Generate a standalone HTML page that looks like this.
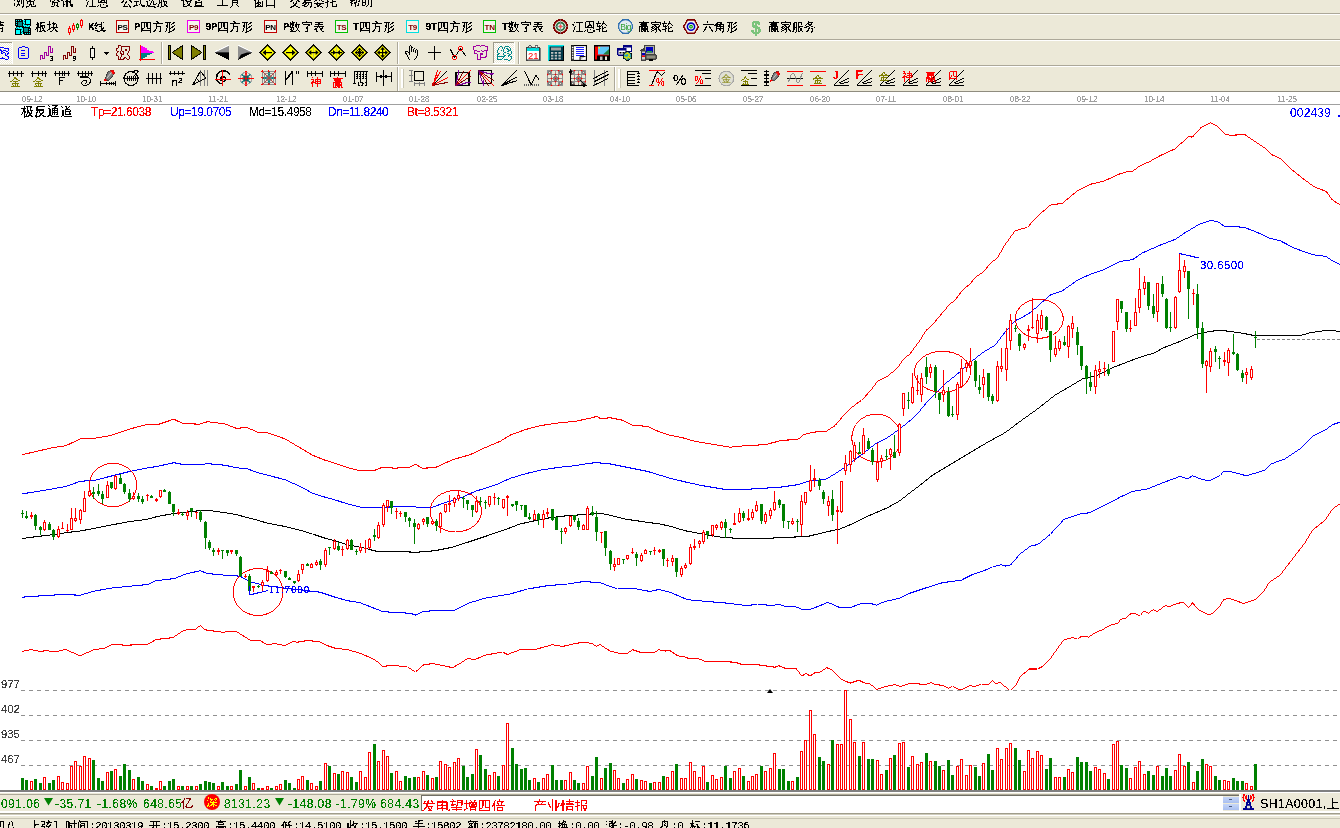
<!DOCTYPE html>
<html lang="zh"><head><meta charset="utf-8"><title>极反通道</title>
<style>
*{margin:0;padding:0;box-sizing:border-box}
html,body{width:1340px;height:828px;overflow:hidden;background:#fff}
body{position:relative;font-family:"Liberation Sans","WenQuanYi Zen Hei",sans-serif;font-size:12px;color:#000}
.abs{position:absolute;white-space:nowrap}
.bar{position:absolute;left:0;width:1340px;background:#ECE9D8}
.hl{position:absolute;left:0;width:1340px;height:1px}
.ss{position:absolute;white-space:nowrap;font-size:12px;line-height:12px;height:12px;color:#000}
.ss .l{font-family:"Liberation Mono",monospace;font-size:11px;letter-spacing:-0.6px;display:inline-block;vertical-align:top;line-height:12px}
.tb .l{font-weight:bold}
.ss .c{font-family:"Liberation Sans","WenQuanYi Zen Hei",sans-serif;font-size:12px;display:inline-block;vertical-align:top;line-height:12px}
.ic{position:absolute;width:16px;height:16px;overflow:visible}
.vsep{position:absolute;width:2px;height:20px;border-left:1px solid #ACA899;border-right:1px solid #fff}
.dt{position:absolute;top:93px;font-size:9.5px;line-height:11px;color:#A0A0A0;font-family:"Liberation Sans",sans-serif;letter-spacing:0;transform:scaleX(.84);transform-origin:0 0}
.ind{position:absolute;top:106px;font-size:12px;line-height:13px;font-family:"Liberation Sans",sans-serif;white-space:nowrap;letter-spacing:-0.45px}
.vl{position:absolute;left:1px;letter-spacing:-0.2px;font-size:11.5px;line-height:12px;color:#404040;font-family:"Liberation Sans",sans-serif}
.st{position:absolute;top:798px;font-size:12px;line-height:13px;font-family:"Liberation Sans",sans-serif;color:#008000;white-space:nowrap;letter-spacing:0.45px}
</style></head><body>
<svg width="0" height="0" style="position:absolute"><defs><filter id="th" x="0" y="0" width="1" height="1" color-interpolation-filters="sRGB"><feComponentTransfer><feFuncA type="discrete" tableValues="0 0 1 1 1"/></feComponentTransfer></filter></defs></svg>
<div class="bar" style="top:0;height:91px"></div>
<div class="hl" style="top:13px;background:#ACA899"></div>
<div class="hl" style="top:14px;background:#fff"></div>
<div class="hl" style="top:39px;background:#ACA899"></div>
<div class="hl" style="top:40px;background:#fff"></div>
<div class="hl" style="top:65px;background:#ACA899"></div>
<div class="hl" style="top:66px;background:#fff"></div>
<div class="hl" style="top:91px;background:#8F8C7F"></div>
<svg width="1340" height="92" viewBox="0 0 1340 92" style="position:absolute;left:0;top:0;overflow:hidden;filter:url(#th)"><defs><pattern id="chk" width="2" height="2" patternUnits="userSpaceOnUse"><rect width="2" height="2" fill="#fff"/><rect width="1" height="1" fill="#ECE9D8"/><rect x="1" y="1" width="1" height="1" fill="#ECE9D8"/></pattern></defs><g transform="translate(15,19)" shape-rendering="crispEdges"><rect x="0" y="0" width="16" height="16" fill="#000" /><rect x="7" y="0" width="2" height="1" fill="#ECE9D8" /><rect x="7" y="15" width="2" height="1" fill="#ECE9D8" /><rect x="0" y="7" width="1" height="2" fill="#ECE9D8" /><rect x="15" y="7" width="1" height="2" fill="#ECE9D8" /><rect x="1" y="1" width="1" height="1" fill="#00ffff" /><rect x="3" y="1" width="1" height="1" fill="#00ffff" /><rect x="5" y="1" width="1" height="1" fill="#00ffff" /><rect x="1" y="3" width="1" height="1" fill="#00ffff" /><rect x="1" y="5" width="1" height="1" fill="#00ffff" /><rect x="3" y="3" width="4" height="4" fill="#008888" /><rect x="11" y="1" width="4" height="4" fill="#00ffff" /><rect x="8" y="1" width="2" height="6" fill="#00ffff" /><rect x="9" y="6" width="6" height="2" fill="#00ffff" /><rect x="9" y="2" width="1" height="1" fill="#006060" /><rect x="8" y="4" width="1" height="1" fill="#006060" /><rect x="9" y="5" width="1" height="1" fill="#006060" /><rect x="10" y="7" width="1" height="1" fill="#006060" /><rect x="12" y="6" width="1" height="1" fill="#006060" /><rect x="14" y="7" width="1" height="1" fill="#006060" /><rect x="1" y="11" width="4" height="4" fill="#00ffff" /><rect x="1" y="8" width="6" height="2" fill="#00ffff" /><rect x="6" y="9" width="2" height="6" fill="#00ffff" /><rect x="2" y="9" width="1" height="1" fill="#006060" /><rect x="4" y="8" width="1" height="1" fill="#006060" /><rect x="6" y="10" width="1" height="1" fill="#006060" /><rect x="7" y="12" width="1" height="1" fill="#006060" /><rect x="6" y="13" width="1" height="1" fill="#006060" /><rect x="1" y="8" width="1" height="1" fill="#006060" /><rect x="9" y="9" width="4" height="4" fill="#008888" /><rect x="14" y="10" width="1" height="1" fill="#00ffff" /><rect x="14" y="12" width="1" height="1" fill="#00ffff" /><rect x="14" y="14" width="1" height="1" fill="#00ffff" /><rect x="12" y="14" width="1" height="1" fill="#00ffff" /><rect x="10" y="14" width="1" height="1" fill="#00ffff" /></g>
<g transform="translate(68,18)" shape-rendering="crispEdges"><rect x="1" y="8" width="1" height="9" fill="#ff0000" /><rect x="0" y="10" width="3" height="5" fill="#ff0000" /><rect x="1" y="11" width="1" height="3" fill="#ECE9D8" /><rect x="5" y="5" width="1" height="9" fill="#ff0000" /><rect x="4" y="7" width="3" height="5" fill="#ff0000" /><rect x="5" y="8" width="1" height="3" fill="#ECE9D8" /><rect x="9" y="5" width="1" height="7" fill="#008000" /><rect x="8" y="6" width="3" height="4" fill="#008000" /><rect x="9" y="7" width="1" height="2" fill="#ECE9D8" /><rect x="13" y="1" width="1" height="9" fill="#ff0000" /><rect x="12" y="2" width="3" height="6" fill="#ff0000" /><rect x="13" y="3" width="1" height="4" fill="#ECE9D8" /></g>
<g transform="translate(116,20)" ><rect x="0" y="0" width="13" height="13" fill="#F6F4EC" /><rect x="0.5" y="0.5" width="12" height="12" fill="none" stroke="#ff0000" stroke-width="1"/><rect x="0.5" y="0.5" width="12" height="12" fill="none" stroke="#800000" stroke-width="1" stroke-dasharray="1,1"/><text x="6.6" y="10" font-size="8" fill="#000" font-family="'Liberation Sans',sans-serif" font-weight="bold" text-anchor="middle" letter-spacing="-0.2">PS</text></g>
<g transform="translate(187,20)" ><rect x="0" y="0" width="13" height="13" fill="#F6F4EC" /><rect x="0.5" y="0.5" width="12" height="12" fill="none" stroke="#ff00ff" stroke-width="1"/><rect x="0.5" y="0.5" width="12" height="12" fill="none" stroke="#e000e0" stroke-width="1" stroke-dasharray="1,1"/><text x="6.6" y="10" font-size="8" fill="#800000" font-family="'Liberation Sans',sans-serif" font-weight="bold" text-anchor="middle" letter-spacing="-0.2">P9</text></g>
<g transform="translate(264,20)" ><rect x="0" y="0" width="13" height="13" fill="#F6F4EC" /><rect x="0.5" y="0.5" width="12" height="12" fill="none" stroke="#ff0000" stroke-width="1"/><rect x="0.5" y="0.5" width="12" height="12" fill="none" stroke="#800000" stroke-width="1" stroke-dasharray="1,1"/><text x="6.6" y="10" font-size="8" fill="#000" font-family="'Liberation Sans',sans-serif" font-weight="bold" text-anchor="middle" letter-spacing="-0.2">PN</text></g>
<g transform="translate(335,20)" ><rect x="0" y="0" width="13" height="13" fill="#F6F4EC" /><rect x="0.5" y="0.5" width="12" height="12" fill="none" stroke="#00ff00" stroke-width="1"/><rect x="0.5" y="0.5" width="12" height="12" fill="none" stroke="#008000" stroke-width="1" stroke-dasharray="1,1"/><text x="6.6" y="10" font-size="8" fill="#800000" font-family="'Liberation Sans',sans-serif" font-weight="bold" text-anchor="middle" letter-spacing="-0.2">TS</text></g>
<g transform="translate(406,20)" ><rect x="0" y="0" width="13" height="13" fill="#F6F4EC" /><rect x="0.5" y="0.5" width="12" height="12" fill="none" stroke="#00ffff" stroke-width="1"/><rect x="0.5" y="0.5" width="12" height="12" fill="none" stroke="#00c0c0" stroke-width="1" stroke-dasharray="1,1"/><text x="6.6" y="10" font-size="8" fill="#800000" font-family="'Liberation Sans',sans-serif" font-weight="bold" text-anchor="middle" letter-spacing="-0.2">T9</text></g>
<g transform="translate(483,20)" ><rect x="0" y="0" width="13" height="13" fill="#F6F4EC" /><rect x="0.5" y="0.5" width="12" height="12" fill="none" stroke="#00ff00" stroke-width="1"/><rect x="0.5" y="0.5" width="12" height="12" fill="none" stroke="#008000" stroke-width="1" stroke-dasharray="1,1"/><text x="6.6" y="10" font-size="8" fill="#800000" font-family="'Liberation Sans',sans-serif" font-weight="bold" text-anchor="middle" letter-spacing="-0.2">TN</text></g>
<g transform="translate(552.5,18.5)" ><circle cx="8" cy="8" r="6.6" fill="#ECE9D8" stroke="#800000" stroke-width="1.8"/><circle cx="8" cy="8" r="3.9" fill="#e0ece0" stroke="#207040" stroke-width="1.7"/><line x1="1" y1="8" x2="15" y2="8" stroke="#909090" stroke-width="0.9"/><line x1="8" y1="1" x2="8" y2="15" stroke="#909090" stroke-width="0.9"/><circle cx="8" cy="8" r="1.4" fill="#ff5050"/></g>
<g transform="translate(617.5,18.5)" ><circle cx="8" cy="8" r="7" fill="#e4ecf4" stroke="#3070b0" stroke-width="1.3"/><text x="8.2" y="11.3" font-size="8.5" fill="#30a030" font-family="'Liberation Sans',sans-serif" font-weight="normal" text-anchor="middle" letter-spacing="-0.5">Big</text></g>
<g transform="translate(683,19)" ><path d="M0.7 7.7 L4.5 1 L11.5 1 L15.3 7.7 L11.5 14.3 L4.5 14.3 Z" stroke="#800000" fill="#F6F4EC" stroke-width="1.4" /><circle cx="8" cy="7.7" r="3.6" fill="#fff" stroke="#0000c0" stroke-width="1.6"/><circle cx="8" cy="7.7" r="1.3" fill="#fff" stroke="#00a000" stroke-width="1.2"/></g>
<g transform="translate(749,18)" ><text x="7" y="15.5" font-size="18" fill="#7cc47c" font-family="'Liberation Sans',sans-serif" font-weight="bold" text-anchor="middle">$</text></g>
<rect x="0" y="42" width="12" height="22" fill="url(#chk)"/><rect x="0" y="42" width="12" height="1" fill="#9D9A89"/><rect x="12" y="42" width="1" height="22" fill="#fff"/>
<g transform="translate(0,46)" shape-rendering="crispEdges"><rect x="0" y="1" width="1" height="1" fill="#0000ff" /><rect x="1" y="1" width="1" height="1" fill="#0000ff" /><rect x="2" y="1" width="1" height="1" fill="#0000ff" /><rect x="3" y="1" width="1" height="1" fill="#0000ff" /><rect x="4" y="2" width="1" height="1" fill="#0000ff" /><rect x="5" y="2" width="1" height="1" fill="#0000ff" /><rect x="6" y="2" width="1" height="1" fill="#0000ff" /><rect x="7" y="2" width="1" height="1" fill="#0000ff" /><rect x="8" y="2" width="1" height="1" fill="#0000ff" /><rect x="0" y="3" width="1" height="1" fill="#0000ff" /><rect x="8" y="3" width="1" height="1" fill="#0000ff" /><rect x="0" y="4" width="1" height="1" fill="#0000ff" /><rect x="1" y="4" width="1" height="1" fill="#0000ff" /><rect x="3" y="4" width="1" height="1" fill="#0000ff" /><rect x="4" y="4" width="1" height="1" fill="#0000ff" /><rect x="5" y="4" width="1" height="1" fill="#0000ff" /><rect x="8" y="4" width="1" height="1" fill="#0000ff" /><rect x="1" y="5" width="1" height="1" fill="#0000ff" /><rect x="2" y="5" width="1" height="1" fill="#0000ff" /><rect x="6" y="5" width="1" height="1" fill="#0000ff" /><rect x="7" y="5" width="1" height="1" fill="#0000ff" /><rect x="1" y="6" width="1" height="1" fill="#0000ff" /><rect x="3" y="6" width="1" height="1" fill="#0000ff" /><rect x="4" y="6" width="1" height="1" fill="#0000ff" /><rect x="8" y="6" width="1" height="1" fill="#0000ff" /><rect x="1" y="7" width="1" height="1" fill="#0000ff" /><rect x="2" y="7" width="1" height="1" fill="#0000ff" /><rect x="5" y="7" width="1" height="1" fill="#0000ff" /><rect x="7" y="7" width="1" height="1" fill="#0000ff" /><rect x="8" y="7" width="1" height="1" fill="#0000ff" /><rect x="5" y="8" width="1" height="1" fill="#0000ff" /><rect x="7" y="8" width="1" height="1" fill="#0000ff" /><rect x="5" y="9" width="1" height="1" fill="#0000ff" /><rect x="6" y="9" width="1" height="1" fill="#0000ff" /><rect x="7" y="10" width="1" height="1" fill="#0000ff" /><rect x="8" y="10" width="1" height="1" fill="#0000ff" /><rect x="2" y="11" width="1" height="1" fill="#0000ff" /><rect x="8" y="11" width="1" height="1" fill="#0000ff" /><rect x="0" y="12" width="1" height="1" fill="#0000ff" /><rect x="1" y="12" width="1" height="1" fill="#0000ff" /><rect x="2" y="12" width="1" height="1" fill="#0000ff" /><rect x="3" y="12" width="1" height="1" fill="#0000ff" /><rect x="4" y="12" width="1" height="1" fill="#0000ff" /><rect x="8" y="12" width="1" height="1" fill="#0000ff" /><rect x="5" y="13" width="1" height="1" fill="#0000ff" /><rect x="6" y="13" width="1" height="1" fill="#0000ff" /><rect x="7" y="13" width="1" height="1" fill="#0000ff" /></g>
<g transform="translate(18,46)" shape-rendering="crispEdges"><rect x="4" y="0" width="1" height="1" fill="#0000ff" /><rect x="5" y="0" width="1" height="1" fill="#0000ff" /><rect x="6" y="0" width="1" height="1" fill="#0000ff" /><rect x="1" y="1" width="1" height="1" fill="#0000ff" /><rect x="2" y="1" width="1" height="1" fill="#0000ff" /><rect x="3" y="1" width="1" height="1" fill="#0000ff" /><rect x="7" y="1" width="1" height="1" fill="#0000ff" /><rect x="8" y="1" width="1" height="1" fill="#0000ff" /><rect x="9" y="1" width="1" height="1" fill="#0000ff" /><rect x="0" y="2" width="1" height="1" fill="#0000ff" /><rect x="10" y="2" width="1" height="1" fill="#0000ff" /><rect x="0" y="3" width="1" height="1" fill="#0000ff" /><rect x="10" y="3" width="1" height="1" fill="#0000ff" /><rect x="0" y="4" width="1" height="1" fill="#0000ff" /><rect x="3" y="4" width="1" height="1" fill="#0000ff" /><rect x="4" y="4" width="1" height="1" fill="#0000ff" /><rect x="5" y="4" width="1" height="1" fill="#0000ff" /><rect x="6" y="4" width="1" height="1" fill="#0000ff" /><rect x="10" y="4" width="1" height="1" fill="#0000ff" /><rect x="0" y="5" width="1" height="1" fill="#0000ff" /><rect x="10" y="5" width="1" height="1" fill="#0000ff" /><rect x="0" y="6" width="1" height="1" fill="#0000ff" /><rect x="10" y="6" width="1" height="1" fill="#0000ff" /><rect x="0" y="7" width="1" height="1" fill="#0000ff" /><rect x="3" y="7" width="1" height="1" fill="#0000ff" /><rect x="4" y="7" width="1" height="1" fill="#0000ff" /><rect x="5" y="7" width="1" height="1" fill="#0000ff" /><rect x="6" y="7" width="1" height="1" fill="#0000ff" /><rect x="10" y="7" width="1" height="1" fill="#0000ff" /><rect x="0" y="8" width="1" height="1" fill="#0000ff" /><rect x="10" y="8" width="1" height="1" fill="#0000ff" /><rect x="0" y="9" width="1" height="1" fill="#0000ff" /><rect x="3" y="9" width="1" height="1" fill="#0000ff" /><rect x="4" y="9" width="1" height="1" fill="#0000ff" /><rect x="5" y="9" width="1" height="1" fill="#0000ff" /><rect x="6" y="9" width="1" height="1" fill="#0000ff" /><rect x="10" y="9" width="1" height="1" fill="#0000ff" /><rect x="0" y="10" width="1" height="1" fill="#0000ff" /><rect x="10" y="10" width="1" height="1" fill="#0000ff" /><rect x="0" y="11" width="1" height="1" fill="#0000ff" /><rect x="10" y="11" width="1" height="1" fill="#0000ff" /><rect x="1" y="12" width="1" height="1" fill="#0000ff" /><rect x="2" y="12" width="1" height="1" fill="#0000ff" /><rect x="3" y="12" width="1" height="1" fill="#0000ff" /><rect x="4" y="12" width="1" height="1" fill="#0000ff" /><rect x="5" y="12" width="1" height="1" fill="#0000ff" /><rect x="6" y="12" width="1" height="1" fill="#0000ff" /><rect x="7" y="12" width="1" height="1" fill="#0000ff" /><rect x="8" y="12" width="1" height="1" fill="#0000ff" /><rect x="9" y="12" width="1" height="1" fill="#0000ff" /></g>
<g transform="translate(40,45)" ><path d="M0.5 14.5 V10.5 H2.5 V13.5 H4.5 V7.5 H6.5 V10.5 H8.5 V1.5 H10.5 V7.5 H12.5 V3.5" stroke="#a000a0" fill="none" stroke-width="0.95" stroke-linecap="square"/><text x="9.6" y="15.8" font-size="7" fill="#000" font-family="'Liberation Sans',sans-serif" font-weight="bold" >3</text></g>
<g transform="translate(63,45)" ><path d="M0.5 14.5 V10.5 H2.5 V13.5 H4.5 V7.5 H6.5 V10.5 H8.5 V1.5 H10.5 V7.5 H12.5 V3.5" stroke="#800000" fill="none" stroke-width="0.95" stroke-linecap="square"/><text x="9.6" y="15.8" font-size="7" fill="#000" font-family="'Liberation Sans',sans-serif" font-weight="bold" >9</text></g>
<g transform="translate(88,45)" ><rect x="4" y="1" width="1" height="14" fill="#000" /><rect x="2" y="3" width="5" height="10" fill="#000" /><rect x="3" y="4" width="3" height="8" fill="#F6F4EC" /><polygon points="16,7 21,7 18.5,9.8" fill="#000"/></g>
<g transform="translate(116,45)" shape-rendering="crispEdges"><rect x="2" y="0" width="1" height="1" fill="#800000" /><rect x="3" y="0" width="1" height="1" fill="#800000" /><rect x="4" y="0" width="1" height="1" fill="#800000" /><rect x="2" y="1" width="1" height="1" fill="#800000" /><rect x="5" y="1" width="1" height="1" fill="#800000" /><rect x="6" y="1" width="1" height="1" fill="#800000" /><rect x="7" y="1" width="1" height="1" fill="#800000" /><rect x="8" y="1" width="1" height="1" fill="#800000" /><rect x="9" y="1" width="1" height="1" fill="#800000" /><rect x="10" y="1" width="1" height="1" fill="#800000" /><rect x="11" y="1" width="1" height="1" fill="#800000" /><rect x="12" y="1" width="1" height="1" fill="#800000" /><rect x="13" y="1" width="1" height="1" fill="#800000" /><rect x="2" y="2" width="1" height="1" fill="#800000" /><rect x="5" y="2" width="1" height="1" fill="#800000" /><rect x="13" y="2" width="1" height="1" fill="#800000" /><rect x="0" y="3" width="1" height="1" fill="#800000" /><rect x="1" y="3" width="1" height="1" fill="#800000" /><rect x="5" y="3" width="1" height="1" fill="#800000" /><rect x="13" y="3" width="1" height="1" fill="#800000" /><rect x="0" y="4" width="1" height="1" fill="#800000" /><rect x="5" y="4" width="1" height="1" fill="#800000" /><rect x="9" y="4" width="1" height="1" fill="#800000" /><rect x="10" y="4" width="1" height="1" fill="#800000" /><rect x="13" y="4" width="1" height="1" fill="#800000" /><rect x="0" y="5" width="1" height="1" fill="#800000" /><rect x="5" y="5" width="1" height="1" fill="#800000" /><rect x="9" y="5" width="1" height="1" fill="#800000" /><rect x="10" y="5" width="1" height="1" fill="#800000" /><rect x="13" y="5" width="1" height="1" fill="#800000" /><rect x="1" y="6" width="1" height="1" fill="#800000" /><rect x="2" y="6" width="1" height="1" fill="#800000" /><rect x="4" y="6" width="1" height="1" fill="#800000" /><rect x="6" y="6" width="1" height="1" fill="#800000" /><rect x="7" y="6" width="1" height="1" fill="#800000" /><rect x="12" y="6" width="1" height="1" fill="#800000" /><rect x="1" y="7" width="1" height="1" fill="#800000" /><rect x="4" y="7" width="1" height="1" fill="#800000" /><rect x="7" y="7" width="1" height="1" fill="#800000" /><rect x="12" y="7" width="1" height="1" fill="#800000" /><rect x="0" y="8" width="1" height="1" fill="#800000" /><rect x="4" y="8" width="1" height="1" fill="#800000" /><rect x="5" y="8" width="1" height="1" fill="#800000" /><rect x="7" y="8" width="1" height="1" fill="#800000" /><rect x="11" y="8" width="1" height="1" fill="#800000" /><rect x="0" y="9" width="1" height="1" fill="#800000" /><rect x="5" y="9" width="1" height="1" fill="#800000" /><rect x="6" y="9" width="1" height="1" fill="#800000" /><rect x="7" y="9" width="1" height="1" fill="#800000" /><rect x="11" y="9" width="1" height="1" fill="#800000" /><rect x="0" y="10" width="1" height="1" fill="#800000" /><rect x="1" y="10" width="1" height="1" fill="#800000" /><rect x="5" y="10" width="1" height="1" fill="#800000" /><rect x="12" y="10" width="1" height="1" fill="#800000" /><rect x="2" y="11" width="1" height="1" fill="#800000" /><rect x="5" y="11" width="1" height="1" fill="#800000" /><rect x="13" y="11" width="1" height="1" fill="#800000" /><rect x="2" y="12" width="1" height="1" fill="#800000" /><rect x="4" y="12" width="1" height="1" fill="#800000" /><rect x="8" y="12" width="1" height="1" fill="#800000" /><rect x="9" y="12" width="1" height="1" fill="#800000" /><rect x="13" y="12" width="1" height="1" fill="#800000" /><rect x="2" y="13" width="1" height="1" fill="#800000" /><rect x="4" y="13" width="1" height="1" fill="#800000" /><rect x="7" y="13" width="1" height="1" fill="#800000" /><rect x="8" y="13" width="1" height="1" fill="#800000" /><rect x="10" y="13" width="1" height="1" fill="#800000" /><rect x="13" y="13" width="1" height="1" fill="#800000" /><rect x="2" y="14" width="1" height="1" fill="#800000" /><rect x="3" y="14" width="1" height="1" fill="#800000" /><rect x="4" y="14" width="1" height="1" fill="#800000" /><rect x="5" y="14" width="1" height="1" fill="#800000" /><rect x="6" y="14" width="1" height="1" fill="#800000" /><rect x="7" y="14" width="1" height="1" fill="#800000" /><rect x="11" y="14" width="1" height="1" fill="#800000" /><rect x="12" y="14" width="1" height="1" fill="#800000" /></g>
<g transform="translate(139,45)" shape-rendering="crispEdges"><rect x="2" y="1" width="2" height="1" fill="#ff00ff" /><rect x="2" y="2" width="4" height="1" fill="#ff00ff" /><rect x="2" y="3" width="6" height="1" fill="#ff00ff" /><rect x="2" y="4" width="6" height="1" fill="#ff00ff" /><rect x="2" y="5" width="8" height="1" fill="#ff00ff" /><rect x="2" y="6" width="12" height="1" fill="#ff00ff" /><rect x="2" y="7" width="13" height="1" fill="#ff00ff" /><rect x="2" y="8" width="11" height="1" fill="#008080" /><rect x="2" y="9" width="9" height="1" fill="#008080" /><rect x="2" y="10" width="6" height="1" fill="#008080" /><rect x="2" y="11" width="6" height="1" fill="#008080" /><rect x="2" y="12" width="4" height="1" fill="#008080" /><rect x="2" y="13" width="2" height="1" fill="#008080" /><rect x="1" y="0" width="1" height="16" fill="#ff0000" /><rect x="0" y="14" width="16" height="1" fill="#ff0000" /></g>
<rect x="161" y="42" width="1" height="22" fill="#ACA899"/><rect x="162" y="42" width="1" height="22" fill="#fff"/>
<g transform="translate(167,45)" ><rect x="1.5" y="0.5" width="2" height="14" fill="#808000" stroke="#000" stroke-width="1" /><polygon points="5,7.5 15.5,0.7 15.5,14.3" fill="#808000" stroke="#000" stroke-width="1"/></g>
<g transform="translate(190,45)" ><rect x="13.5" y="0.5" width="2" height="14" fill="#808000" stroke="#000" stroke-width="1" /><polygon points="12,7.5 1.5,0.7 1.5,14.3" fill="#808000" stroke="#000" stroke-width="1"/></g>
<g transform="translate(214,45)" ><polygon points="0.5,7.5 15,0.5 15,7.5" fill="#909090"/><polygon points="0.5,7.5 15,7.5 15,14.8" fill="#000"/><path d="M0.5 7 L15 0.3" stroke="#fff" fill="none" stroke-width="0.95" /></g>
<g transform="translate(237,45)" ><polygon points="15.5,7.5 1,0.5 1,14.5" fill="#909090"/><polygon points="15.5,7.5 1,14.8 4,9.5 10,7.5" fill="#000"/><path d="M1 0.3 L15.5 7" stroke="#fff" fill="none" stroke-width="0.95" /></g>
<g transform="translate(260,45)" ><polygon points="7.5,0 15,7.5 7.5,15 0,7.5" fill="#ffff00" stroke="#000" stroke-width="1.1"/><rect x="4" y="7" width="8" height="1.2" fill="#000" /><polygon points="2.5,7.6 6,10.4 6,4.8" fill="#000"/></g>
<g transform="translate(283,45)" ><polygon points="7.5,0 15,7.5 7.5,15 0,7.5" fill="#ffff00" stroke="#000" stroke-width="1.1"/><rect x="3" y="7" width="8" height="1.2" fill="#000" /><polygon points="12.5,7.6 9,4.8 9,10.4" fill="#000"/></g>
<g transform="translate(306,45)" ><polygon points="7.5,0 15,7.5 7.5,15 0,7.5" fill="#ffff00" stroke="#000" stroke-width="1.1"/><rect x="7" y="2" width="1" height="11" fill="#c8c860" /><rect x="4" y="7" width="7" height="1.2" fill="#000" /><polygon points="2.3,7.6 5.3,10.1 5.3,5.1" fill="#000"/><polygon points="12.7,7.6 9.7,5.1 9.7,10.1" fill="#000"/></g>
<g transform="translate(329,45)" ><polygon points="7.5,0 15,7.5 7.5,15 0,7.5" fill="#ffff00" stroke="#000" stroke-width="1.1"/><rect x="7" y="2" width="1" height="11" fill="#c8c860" /><rect x="2" y="7" width="11" height="1.2" fill="#000" /><polygon points="7,7.6 4,5.1 4,10.1" fill="#000"/><polygon points="8,7.6 11,10.1 11,5.1" fill="#000"/></g>
<g transform="translate(352,45)" ><polygon points="7.5,0 15,7.5 7.5,15 0,7.5" fill="#ffff00" stroke="#000" stroke-width="1.1"/><rect x="3" y="7" width="9" height="1.1" fill="#000" /><rect x="7" y="3" width="1.1" height="9" fill="#000" /><line x1="4.5" y1="4.5" x2="10.5" y2="10.5" stroke="#000" stroke-width="0.9"/><line x1="10.5" y1="4.5" x2="4.5" y2="10.5" stroke="#000" stroke-width="0.9"/><polygon points="6.3,7.55 3.8,5.55 3.8,9.55" fill="#000"/><polygon points="8.8,7.55 11.3,9.55 11.3,5.55" fill="#000"/><polygon points="7.55,6.3 5.55,3.8 9.55,3.8" fill="#000"/><polygon points="7.55,8.8 9.55,11.3 5.55,11.3" fill="#000"/></g>
<g transform="translate(375,45)" ><polygon points="7.5,0 15,7.5 7.5,15 0,7.5" fill="#ffff00" stroke="#000" stroke-width="1.1"/><rect x="3" y="7" width="9" height="1.2" fill="#000" /><rect x="7" y="3" width="1.2" height="9" fill="#000" /><polygon points="2,7.6 4.8,10 4.8,5.2" fill="#000"/><polygon points="13,7.6 10.2,5.2 10.2,10" fill="#000"/><polygon points="7.6,2 10,4.8 5.2,4.8" fill="#000"/><polygon points="7.6,13 5.2,10.2 10,10.2" fill="#000"/></g>
<rect x="397" y="42" width="1" height="22" fill="#ACA899"/><rect x="398" y="42" width="1" height="22" fill="#fff"/>
<g transform="translate(405,45)" shape-rendering="crispEdges"><rect x="5" y="0" width="1" height="1" fill="#000" /><rect x="4" y="1" width="1" height="1" fill="#000" /><rect x="6" y="1" width="1" height="1" fill="#000" /><rect x="4" y="2" width="1" height="1" fill="#000" /><rect x="6" y="2" width="1" height="1" fill="#000" /><rect x="7" y="2" width="1" height="1" fill="#000" /><rect x="4" y="3" width="1" height="1" fill="#000" /><rect x="6" y="3" width="1" height="1" fill="#000" /><rect x="9" y="3" width="1" height="1" fill="#000" /><rect x="4" y="4" width="1" height="1" fill="#000" /><rect x="6" y="4" width="1" height="1" fill="#000" /><rect x="8" y="4" width="1" height="1" fill="#000" /><rect x="11" y="4" width="1" height="1" fill="#000" /><rect x="4" y="5" width="1" height="1" fill="#000" /><rect x="6" y="5" width="1" height="1" fill="#000" /><rect x="8" y="5" width="1" height="1" fill="#000" /><rect x="10" y="5" width="1" height="1" fill="#000" /><rect x="12" y="5" width="1" height="1" fill="#000" /><rect x="0" y="6" width="1" height="1" fill="#000" /><rect x="1" y="6" width="1" height="1" fill="#000" /><rect x="2" y="6" width="1" height="1" fill="#000" /><rect x="4" y="6" width="1" height="1" fill="#000" /><rect x="6" y="6" width="1" height="1" fill="#000" /><rect x="8" y="6" width="1" height="1" fill="#000" /><rect x="10" y="6" width="1" height="1" fill="#000" /><rect x="12" y="6" width="1" height="1" fill="#000" /><rect x="0" y="7" width="1" height="1" fill="#000" /><rect x="3" y="7" width="1" height="1" fill="#000" /><rect x="4" y="7" width="1" height="1" fill="#000" /><rect x="10" y="7" width="1" height="1" fill="#000" /><rect x="12" y="7" width="1" height="1" fill="#000" /><rect x="0" y="8" width="1" height="1" fill="#000" /><rect x="1" y="8" width="1" height="1" fill="#000" /><rect x="4" y="8" width="1" height="1" fill="#000" /><rect x="12" y="8" width="1" height="1" fill="#000" /><rect x="1" y="9" width="1" height="1" fill="#000" /><rect x="4" y="9" width="1" height="1" fill="#000" /><rect x="12" y="9" width="1" height="1" fill="#000" /><rect x="2" y="10" width="1" height="1" fill="#000" /><rect x="12" y="10" width="1" height="1" fill="#000" /><rect x="2" y="11" width="1" height="1" fill="#000" /><rect x="11" y="11" width="1" height="1" fill="#000" /><rect x="3" y="12" width="1" height="1" fill="#000" /><rect x="11" y="12" width="1" height="1" fill="#000" /><rect x="3" y="13" width="1" height="1" fill="#000" /><rect x="10" y="13" width="1" height="1" fill="#000" /><rect x="4" y="14" width="1" height="1" fill="#000" /><rect x="9" y="14" width="1" height="1" fill="#000" /></g>
<g transform="translate(427,45)" shape-rendering="crispEdges"><rect x="7" y="1" width="1" height="14" fill="#000" /><rect x="1" y="7" width="13" height="1" fill="#000" /></g>
<g transform="translate(449,45)" ><path d="M1.5 4.5 L5.5 12.5 L11.5 3.5 L16.5 10.7" stroke="#000" fill="none" stroke-width="0.95" /><g shape-rendering="crispEdges"><rect x="4" y="10" width="3" height="1" fill="#ff0000" /><rect x="4" y="14" width="3" height="1" fill="#ff0000" /><rect x="3" y="11" width="1" height="3" fill="#ff0000" /><rect x="7" y="11" width="1" height="3" fill="#ff0000" /><rect x="10" y="1" width="3" height="1" fill="#ff0000" /><rect x="10" y="5" width="3" height="1" fill="#ff0000" /><rect x="9" y="2" width="1" height="3" fill="#ff0000" /><rect x="13" y="2" width="1" height="3" fill="#ff0000" /></g></g>
<g transform="translate(473,45)" shape-rendering="crispEdges"><rect x="3" y="0" width="1" height="1" fill="#a000a0" /><rect x="4" y="0" width="1" height="1" fill="#a000a0" /><rect x="5" y="0" width="1" height="1" fill="#a000a0" /><rect x="6" y="0" width="1" height="1" fill="#a000a0" /><rect x="8" y="0" width="1" height="1" fill="#a000a0" /><rect x="9" y="0" width="1" height="1" fill="#a000a0" /><rect x="10" y="0" width="1" height="1" fill="#a000a0" /><rect x="11" y="0" width="1" height="1" fill="#a000a0" /><rect x="0" y="1" width="1" height="1" fill="#a000a0" /><rect x="1" y="1" width="1" height="1" fill="#a000a0" /><rect x="2" y="1" width="1" height="1" fill="#a000a0" /><rect x="7" y="1" width="1" height="1" fill="#a000a0" /><rect x="12" y="1" width="1" height="1" fill="#a000a0" /><rect x="13" y="1" width="1" height="1" fill="#a000a0" /><rect x="14" y="1" width="1" height="1" fill="#a000a0" /><rect x="0" y="2" width="1" height="1" fill="#a000a0" /><rect x="14" y="2" width="1" height="1" fill="#a000a0" /><rect x="0" y="3" width="1" height="1" fill="#a000a0" /><rect x="14" y="3" width="1" height="1" fill="#a000a0" /><rect x="0" y="4" width="1" height="1" fill="#a000a0" /><rect x="14" y="4" width="1" height="1" fill="#a000a0" /><rect x="1" y="5" width="1" height="1" fill="#a000a0" /><rect x="2" y="5" width="1" height="1" fill="#a000a0" /><rect x="3" y="5" width="1" height="1" fill="#a000a0" /><rect x="8" y="5" width="1" height="1" fill="#a000a0" /><rect x="11" y="5" width="1" height="1" fill="#a000a0" /><rect x="12" y="5" width="1" height="1" fill="#a000a0" /><rect x="13" y="5" width="1" height="1" fill="#a000a0" /><rect x="14" y="5" width="1" height="1" fill="#a000a0" /><rect x="1" y="6" width="1" height="1" fill="#a000a0" /><rect x="4" y="6" width="1" height="1" fill="#a000a0" /><rect x="5" y="6" width="1" height="1" fill="#a000a0" /><rect x="6" y="6" width="1" height="1" fill="#a000a0" /><rect x="9" y="6" width="1" height="1" fill="#a000a0" /><rect x="10" y="6" width="1" height="1" fill="#a000a0" /><rect x="13" y="6" width="1" height="1" fill="#a000a0" /><rect x="1" y="7" width="1" height="1" fill="#a000a0" /><rect x="13" y="7" width="1" height="1" fill="#a000a0" /><rect x="1" y="8" width="1" height="1" fill="#a000a0" /><rect x="2" y="8" width="1" height="1" fill="#a000a0" /><rect x="3" y="8" width="1" height="1" fill="#a000a0" /><rect x="7" y="8" width="1" height="1" fill="#a000a0" /><rect x="8" y="8" width="1" height="1" fill="#a000a0" /><rect x="9" y="8" width="1" height="1" fill="#a000a0" /><rect x="13" y="8" width="1" height="1" fill="#a000a0" /><rect x="4" y="9" width="1" height="1" fill="#a000a0" /><rect x="7" y="9" width="1" height="1" fill="#a000a0" /><rect x="8" y="9" width="1" height="1" fill="#a000a0" /><rect x="9" y="9" width="1" height="1" fill="#a000a0" /><rect x="13" y="9" width="1" height="1" fill="#a000a0" /><rect x="4" y="10" width="1" height="1" fill="#a000a0" /><rect x="7" y="10" width="1" height="1" fill="#a000a0" /><rect x="13" y="10" width="1" height="1" fill="#a000a0" /><rect x="4" y="11" width="1" height="1" fill="#a000a0" /><rect x="7" y="11" width="1" height="1" fill="#a000a0" /><rect x="12" y="11" width="1" height="1" fill="#a000a0" /><rect x="13" y="11" width="1" height="1" fill="#a000a0" /><rect x="4" y="12" width="1" height="1" fill="#a000a0" /><rect x="7" y="12" width="1" height="1" fill="#a000a0" /><rect x="8" y="12" width="1" height="1" fill="#a000a0" /><rect x="9" y="12" width="1" height="1" fill="#a000a0" /><rect x="10" y="12" width="1" height="1" fill="#a000a0" /><rect x="11" y="12" width="1" height="1" fill="#a000a0" /><rect x="12" y="12" width="1" height="1" fill="#a000a0" /><rect x="4" y="13" width="1" height="1" fill="#a000a0" /><rect x="7" y="13" width="1" height="1" fill="#a000a0" /><rect x="4" y="14" width="1" height="1" fill="#a000a0" /><rect x="5" y="14" width="1" height="1" fill="#a000a0" /><rect x="6" y="14" width="1" height="1" fill="#a000a0" /><rect x="7" y="14" width="1" height="1" fill="#a000a0" /></g>
<rect x="493" y="42" width="22" height="22" fill="url(#chk)"/><rect x="493" y="42" width="22" height="1" fill="#9D9A89"/><rect x="493" y="42" width="1" height="22" fill="#9D9A89"/><rect x="514" y="42" width="1" height="22" fill="#fff"/><rect x="493" y="63" width="22" height="1" fill="#fff"/>
<g transform="translate(497,46)" shape-rendering="crispEdges"><rect x="3" y="0" width="1" height="1" fill="#008888" /><rect x="4" y="0" width="1" height="1" fill="#008888" /><rect x="8" y="0" width="1" height="1" fill="#008888" /><rect x="9" y="0" width="1" height="1" fill="#008888" /><rect x="10" y="0" width="1" height="1" fill="#008888" /><rect x="11" y="0" width="1" height="1" fill="#008888" /><rect x="2" y="1" width="1" height="1" fill="#008888" /><rect x="5" y="1" width="1" height="1" fill="#008888" /><rect x="7" y="1" width="1" height="1" fill="#008888" /><rect x="12" y="1" width="1" height="1" fill="#008888" /><rect x="1" y="2" width="1" height="1" fill="#008888" /><rect x="5" y="2" width="1" height="1" fill="#008888" /><rect x="7" y="2" width="1" height="1" fill="#008888" /><rect x="9" y="2" width="1" height="1" fill="#008888" /><rect x="10" y="2" width="1" height="1" fill="#008888" /><rect x="13" y="2" width="1" height="1" fill="#008888" /><rect x="1" y="3" width="1" height="1" fill="#008888" /><rect x="6" y="3" width="1" height="1" fill="#008888" /><rect x="10" y="3" width="1" height="1" fill="#008888" /><rect x="11" y="3" width="1" height="1" fill="#008888" /><rect x="13" y="3" width="1" height="1" fill="#008888" /><rect x="0" y="4" width="1" height="1" fill="#008888" /><rect x="4" y="4" width="1" height="1" fill="#008888" /><rect x="6" y="4" width="1" height="1" fill="#008888" /><rect x="11" y="4" width="1" height="1" fill="#008888" /><rect x="12" y="4" width="1" height="1" fill="#008888" /><rect x="13" y="4" width="1" height="1" fill="#008888" /><rect x="0" y="5" width="1" height="1" fill="#008888" /><rect x="6" y="5" width="1" height="1" fill="#008888" /><rect x="10" y="5" width="1" height="1" fill="#008888" /><rect x="11" y="5" width="1" height="1" fill="#008888" /><rect x="14" y="5" width="1" height="1" fill="#008888" /><rect x="0" y="6" width="1" height="1" fill="#008888" /><rect x="7" y="6" width="1" height="1" fill="#008888" /><rect x="8" y="6" width="1" height="1" fill="#008888" /><rect x="14" y="6" width="1" height="1" fill="#008888" /><rect x="1" y="7" width="1" height="1" fill="#008888" /><rect x="2" y="7" width="1" height="1" fill="#008888" /><rect x="6" y="7" width="1" height="1" fill="#008888" /><rect x="10" y="7" width="1" height="1" fill="#008888" /><rect x="11" y="7" width="1" height="1" fill="#008888" /><rect x="14" y="7" width="1" height="1" fill="#008888" /><rect x="0" y="8" width="1" height="1" fill="#008888" /><rect x="1" y="8" width="1" height="1" fill="#008888" /><rect x="6" y="8" width="1" height="1" fill="#008888" /><rect x="12" y="8" width="1" height="1" fill="#008888" /><rect x="13" y="8" width="1" height="1" fill="#008888" /><rect x="0" y="9" width="1" height="1" fill="#008888" /><rect x="7" y="9" width="1" height="1" fill="#008888" /><rect x="8" y="9" width="1" height="1" fill="#008888" /><rect x="11" y="9" width="1" height="1" fill="#008888" /><rect x="12" y="9" width="1" height="1" fill="#008888" /><rect x="0" y="10" width="1" height="1" fill="#008888" /><rect x="1" y="10" width="1" height="1" fill="#008888" /><rect x="2" y="10" width="1" height="1" fill="#008888" /><rect x="3" y="10" width="1" height="1" fill="#008888" /><rect x="4" y="10" width="1" height="1" fill="#008888" /><rect x="5" y="10" width="1" height="1" fill="#008888" /><rect x="6" y="10" width="1" height="1" fill="#008888" /><rect x="7" y="10" width="1" height="1" fill="#008888" /><rect x="11" y="10" width="1" height="1" fill="#008888" /><rect x="13" y="10" width="1" height="1" fill="#008888" /><rect x="14" y="10" width="1" height="1" fill="#008888" /><rect x="0" y="11" width="1" height="1" fill="#008888" /><rect x="6" y="11" width="1" height="1" fill="#008888" /><rect x="14" y="11" width="1" height="1" fill="#008888" /><rect x="0" y="12" width="1" height="1" fill="#008888" /><rect x="5" y="12" width="1" height="1" fill="#008888" /><rect x="14" y="12" width="1" height="1" fill="#008888" /><rect x="0" y="13" width="1" height="1" fill="#008888" /><rect x="1" y="13" width="1" height="1" fill="#008888" /><rect x="2" y="13" width="1" height="1" fill="#008888" /><rect x="3" y="13" width="1" height="1" fill="#008888" /><rect x="4" y="13" width="1" height="1" fill="#008888" /><rect x="7" y="13" width="1" height="1" fill="#008888" /><rect x="8" y="13" width="1" height="1" fill="#008888" /><rect x="9" y="13" width="1" height="1" fill="#008888" /><rect x="10" y="13" width="1" height="1" fill="#008888" /><rect x="13" y="13" width="1" height="1" fill="#008888" /><rect x="11" y="14" width="1" height="1" fill="#008888" /><rect x="12" y="14" width="1" height="1" fill="#008888" /></g>
<rect x="518" y="42" width="1" height="22" fill="#ACA899"/><rect x="519" y="42" width="1" height="22" fill="#fff"/>
<g transform="translate(526,45)" ><rect x="2" y="3" width="13" height="13" fill="#808080" /><rect x="0.5" y="2.5" width="13" height="12.5" fill="#fff" stroke="#404040" stroke-width="1" /><rect x="1" y="3" width="12" height="3" fill="#00e0e0" /><circle cx="4" cy="1.7" r="1.3" fill="#fff" stroke="#404040" stroke-width="0.8"/><circle cx="10.5" cy="1.7" r="1.3" fill="#fff" stroke="#404040" stroke-width="0.8"/><text x="7.2" y="14" font-size="9.5" fill="#ff0000" font-family="'Liberation Sans',sans-serif" font-weight="normal" text-anchor="middle" letter-spacing="-0.2">21</text></g>
<g transform="translate(548,45)" ><rect x="0" y="0" width="16" height="16" fill="#00e8e8" /><rect x="1.5" y="1.5" width="13.5" height="13.5" fill="#003848" /><rect x="3" y="2.5" width="10" height="3" fill="#a0a0a0" /><rect x="3" y="7" width="2.4" height="1.8" fill="#c0c0c0" /><rect x="6.7" y="7" width="2.4" height="1.8" fill="#c0c0c0" /><rect x="10.4" y="7" width="2.4" height="1.8" fill="#c0c0c0" /><rect x="3" y="9.8" width="2.4" height="1.8" fill="#c0c0c0" /><rect x="6.7" y="9.8" width="2.4" height="1.8" fill="#c0c0c0" /><rect x="10.4" y="9.8" width="2.4" height="1.8" fill="#c0c0c0" /><rect x="3" y="12.6" width="2.4" height="1.8" fill="#c0c0c0" /><rect x="6.7" y="12.6" width="2.4" height="1.8" fill="#c0c0c0" /><rect x="10.4" y="12.6" width="2.4" height="1.8" fill="#c0c0c0" /><rect x="15" y="1" width="1" height="15" fill="#000" /><rect x="1" y="15" width="15" height="1" fill="#000" /></g>
<g transform="translate(571,45)" ><rect x="1" y="0.5" width="14.5" height="15" fill="#fff" stroke="#000" stroke-width="1.2" /><rect x="0.5" y="0.5" width="2.5" height="15" fill="#404040" /><circle cx="1.7" cy="2.5" r="0.8" fill="#fff"/><circle cx="1.7" cy="5.1" r="0.8" fill="#fff"/><circle cx="1.7" cy="7.7" r="0.8" fill="#fff"/><circle cx="1.7" cy="10.3" r="0.8" fill="#fff"/><circle cx="1.7" cy="12.9" r="0.8" fill="#fff"/><rect x="5" y="2" width="8" height="1" fill="#2020ff" /><rect x="5" y="4" width="8" height="1" fill="#2020ff" /><rect x="5" y="6" width="8" height="1" fill="#2020ff" /><rect x="5" y="8" width="8" height="1" fill="#2020ff" /><rect x="5" y="10" width="8" height="1" fill="#2020ff" /><path d="M9 15 L9 11.5 L14.5 11.5" stroke="#000" fill="#c0c0c0" stroke-width="0.95" /></g>
<g transform="translate(594,45)" ><rect x="0.5" y="1" width="15" height="14" fill="#ff0000" stroke="#000" stroke-width="1.1" /><rect x="4" y="1.5" width="11" height="8" fill="#60c8f8" /><polygon points="9,9.5 15,4 15,9.5" fill="#208040"/><rect x="4.5" y="2" width="1.5" height="1.5" fill="#ffff00" /><rect x="3" y="10.5" width="12" height="4.5" fill="#000" /><rect x="6" y="11.5" width="2.5" height="3.5" fill="#c0c0c0" /><rect x="11" y="11.5" width="2" height="3.5" fill="#ECE9D8" /></g>
<g transform="translate(617,45)" ><rect x="6.5" y="0.5" width="8" height="6" fill="#fff" stroke="#000080" stroke-width="1" /><rect x="6.5" y="0.5" width="8" height="2" fill="#000080" /><rect x="1" y="3.5" width="8" height="6.5" fill="#fff" stroke="#000080" stroke-width="1" /><rect x="1" y="3.5" width="8" height="2" fill="#000080" /><rect x="2.5" y="7" width="2" height="1.5" fill="#000" /><rect x="5.5" y="7" width="2" height="1.5" fill="#000" /><circle cx="10.5" cy="11" r="4.3" fill="#20a0c0" stroke="#000" stroke-width="1"/><path d="M8 9.5 L10.5 8 L12.5 10 L11 12 L13.5 13 M7 12 L9.5 12.5 L10 14.5" stroke="#e0e000" fill="none" stroke-width="1.4" /></g>
<g transform="translate(640,45)" ><rect x="4.5" y="0.5" width="10" height="9" fill="#b0b0a0" stroke="#404040" stroke-width="1" /><rect x="6" y="2" width="7" height="5.5" fill="#0000c0" /><rect x="7" y="6" width="5" height="1.5" fill="#20a040" /><rect x="6" y="10" width="10" height="4" fill="#909080" stroke="#404040" stroke-width="1" /><rect x="9" y="14" width="4" height="1.5" fill="#000" /><rect x="1.5" y="6" width="4" height="9" fill="#d0d0d0" stroke="#404040" stroke-width="1" /><rect x="2" y="8" width="3" height="2.5" fill="#0000c0" /><rect x="2" y="10.5" width="3" height="1.5" fill="#ff0000" /><path d="M0.5 5.5 L3.5 3.5 L4.5 6" stroke="#404040" fill="none" stroke-width="0.95" /></g>
<g transform="translate(8,70)" ><rect x="0" y="3" width="16" height="1" fill="#000" /><rect x="1" y="1" width="1" height="6" fill="#000" /><rect x="5" y="1" width="1" height="5" fill="#000" /><rect x="9" y="1" width="1" height="5" fill="#000" /><rect x="13" y="1" width="1" height="6" fill="#000" /><text x="7.5" y="16" font-size="11.5" fill="#808000" font-family="'Liberation Sans','WenQuanYi Zen Hei',sans-serif" font-weight="bold" text-anchor="middle">金</text></g>
<g transform="translate(31,70)" ><rect x="0" y="3" width="16" height="1" fill="#000" /><rect x="1" y="1" width="1" height="6" fill="#000" /><rect x="7" y="1" width="1" height="5" fill="#000" /><rect x="11" y="1" width="1" height="5" fill="#000" /><rect x="14" y="1" width="1" height="6" fill="#000" /><text x="7.5" y="16" font-size="11.5" fill="#808000" font-family="'Liberation Sans','WenQuanYi Zen Hei',sans-serif" font-weight="bold" text-anchor="middle">金</text></g>
<g transform="translate(54,70)" ><rect x="0" y="3" width="16" height="1" fill="#000" /><rect x="1" y="1" width="1" height="5" fill="#000" /><rect x="5" y="1" width="1" height="5" fill="#000" /><rect x="8" y="1" width="1" height="5" fill="#000" /><rect x="10" y="1" width="1" height="5" fill="#000" /><rect x="14" y="1" width="1" height="5" fill="#000" /><rect x="5" y="7" width="1.2" height="8" fill="#000" /><rect x="5" y="7" width="5.5" height="1.2" fill="#000" /><rect x="5" y="10" width="4" height="1.2" fill="#000" /></g>
<g transform="translate(77,70)" ><rect x="0" y="3" width="16" height="1" fill="#000" /><rect x="1" y="1" width="1" height="5" fill="#000" /><rect x="5" y="1" width="1" height="5" fill="#000" /><rect x="8" y="1" width="1" height="5" fill="#000" /><rect x="11" y="1" width="1" height="5" fill="#000" /><rect x="14" y="1" width="1" height="5" fill="#000" /><path d="M2.5 7 H10.5 Q14 8 13.6 11 Q12.5 15.3 8 15.3 Q4 15 4.8 12.3 Q6 10 8.8 10.4 Q10.8 11 9.8 12.8 Q8.6 13.8 7.6 12.8" stroke="#000" fill="none" stroke-width="0.95" /></g>
<g transform="translate(100,70)" ><polygon points="5,9.5 8,1.5 13,0 14.5,3.5 9,10.5" fill="#808080" stroke="#303030" stroke-width="0.8"/><polygon points="10,0.6 13.5,0 14.8,3.5 13,4.6" fill="#ff0000"/><polygon points="3,11.5 5,8.5 7.2,10.2" fill="#ff0000"/><line x1="7" y1="8" x2="11.5" y2="2.5" stroke="#d8d8d8" stroke-width="0.9"/><rect x="0" y="13" width="16" height="1" fill="#000" /><rect x="0" y="11" width="1" height="5" fill="#000" /><rect x="6" y="12" width="1" height="3" fill="#000" /><rect x="9" y="12" width="1" height="3" fill="#000" /><rect x="11" y="12" width="1" height="3" fill="#000" /><rect x="13" y="12" width="1" height="3" fill="#000" /><rect x="15" y="11" width="1" height="5" fill="#000" /></g>
<g transform="translate(123,70)" ><circle cx="8" cy="8.5" r="7" fill="none" stroke="#000" stroke-width="1.1"/><rect x="1" y="8" width="15" height="1" fill="#000" /><rect x="4" y="6" width="1" height="5" fill="#000" /><rect x="6" y="6" width="1" height="5" fill="#000" /><rect x="8" y="6" width="1" height="5" fill="#000" /><rect x="10" y="6" width="1" height="5" fill="#000" /><rect x="12" y="6" width="1" height="5" fill="#000" /><path d="M9.5 1.8 Q13 -0.2 15.5 1 L10.5 7" stroke="#000" fill="none" stroke-width="0.95" /></g>
<g transform="translate(146,70)" ><rect x="0" y="8" width="16" height="1" fill="#000" /><rect x="2" y="3" width="1" height="11" fill="#000" /><rect x="6" y="3" width="1" height="11" fill="#000" /><rect x="10" y="3" width="1" height="11" fill="#000" /><rect x="14" y="3" width="1" height="11" fill="#000" /></g>
<g transform="translate(169,70)" ><rect x="0" y="3" width="16" height="1" fill="#000" /><rect x="1" y="1" width="1" height="4" fill="#000" /><rect x="5" y="1" width="1" height="4" fill="#000" /><rect x="9" y="1" width="1" height="4" fill="#000" /><rect x="13" y="1" width="1" height="4" fill="#000" /><text x="2.5" y="15.6" font-size="11.5" fill="#000" font-family="'Liberation Sans',sans-serif" font-weight="normal" >n</text><text x="9.2" y="12.8" font-size="7.5" fill="#000" font-family="'Liberation Sans',sans-serif" font-weight="bold" >2</text></g>
<g transform="translate(192,70)" ><rect x="8" y="0" width="1" height="16" fill="#808080" /><rect x="12" y="0" width="1" height="16" fill="#808080" /><rect x="15" y="0" width="1" height="16" fill="#808080" /><path d="M0.8 14.8 L8.3 1.3 L14 8 L0.8 14.8 M5 8.5 L7.2 11" stroke="#000" fill="none" stroke-width="0.95" /></g>
<g transform="translate(215,70)" ><path d="M8 1 Q13 1 15 4.5 M8 1 Q1.5 1.5 1.6 8 Q2 13.5 8 13.8 M8 6.5 Q11 6.8 10.5 9.8 Q9.5 12 7 11 Q5.2 10 6 8 Q6.6 6.6 8 6.5" stroke="#000" fill="none" stroke-width="1.3" /><rect x="0" y="9" width="16" height="1" fill="#ff0000" /><rect x="7" y="0" width="1" height="16" fill="#ff0000" /></g>
<g transform="translate(238,70)" ><circle cx="8" cy="8.5" r="6" fill="none" stroke="#a8a8a8" stroke-width="1"/><circle cx="8" cy="8.5" r="3.5" fill="none" stroke="#a8a8a8" stroke-width="1"/><rect x="0.5" y="8" width="15" height="1" fill="#ff0000" /><rect x="7.5" y="1" width="1" height="15" fill="#ff0000" /><line x1="2.7" y1="3.2" x2="13.3" y2="13.8" stroke="#008080" stroke-width="0.9"/><line x1="2.7" y1="13.8" x2="13.3" y2="3.2" stroke="#008080" stroke-width="0.9"/><line x1="5.8" y1="6.3" x2="10.2" y2="10.7" stroke="#006868" stroke-width="2"/><line x1="10.2" y1="6.3" x2="5.8" y2="10.7" stroke="#006868" stroke-width="2"/><rect x="7" y="7.5" width="2" height="2" fill="#ff0000" /></g>
<g transform="translate(261,70)" ><rect x="1.5" y="1.5" width="13" height="13" fill="none" stroke="#909090" stroke-width="1" /><rect x="3.5" y="3.5" width="9" height="9" fill="none" stroke="#909090" stroke-width="1" /><rect x="5.5" y="5.5" width="5" height="5" fill="#d07070" stroke="#909090" stroke-width="1" /><rect x="7.5" y="1" width="1" height="14" fill="#008080" /><rect x="1" y="7.5" width="14" height="1" fill="#008080" /><line x1="1.5" y1="1.5" x2="14.5" y2="14.5" stroke="#c04040" stroke-width="0.9"/><line x1="14.5" y1="1.5" x2="1.5" y2="14.5" stroke="#c04040" stroke-width="0.9"/><rect x="0.5" y="0.5" width="1.6" height="1.6" fill="#ff0000" /><rect x="13.5" y="0.5" width="1.6" height="1.6" fill="#ff0000" /><rect x="0.5" y="13.5" width="1.6" height="1.6" fill="#ff0000" /><rect x="13.5" y="13.5" width="1.6" height="1.6" fill="#ff0000" /><rect x="7" y="0.5" width="1.6" height="1.6" fill="#ff0000" /><rect x="7" y="13.5" width="1.6" height="1.6" fill="#ff0000" /><rect x="0.5" y="7" width="1.6" height="1.6" fill="#ff0000" /><rect x="13.5" y="7" width="1.6" height="1.6" fill="#ff0000" /></g>
<g transform="translate(284,70)" ><path d="M1.5 1.5 V15 M1.5 10.5 L8.5 1.5 M8.5 1.5 V15" stroke="#000" fill="none" stroke-width="1.3" /><rect x="12" y="1" width="1" height="3" fill="#000" /><rect x="14" y="1" width="1" height="3" fill="#000" /></g>
<g transform="translate(307,70)" ><rect x="0" y="3" width="16" height="1" fill="#000" /><rect x="0" y="1" width="1" height="6" fill="#000" /><rect x="4" y="1" width="1" height="5" fill="#000" /><rect x="8" y="1" width="1" height="5" fill="#000" /><rect x="15" y="1" width="1" height="6" fill="#000" /><text x="9" y="16.3" font-size="11.5" fill="#ff0000" font-family="'Liberation Sans','WenQuanYi Zen Hei',sans-serif" font-weight="normal" text-anchor="middle">神</text></g>
<g transform="translate(330,70)" ><rect x="0" y="3" width="16" height="1" fill="#000" /><rect x="0" y="1" width="1" height="6" fill="#000" /><rect x="4" y="1" width="1" height="5" fill="#000" /><rect x="8" y="1" width="1" height="5" fill="#000" /><rect x="15" y="1" width="1" height="6" fill="#000" /><text x="8" y="16.5" font-size="12" fill="#ff0000" font-family="'Liberation Sans','WenQuanYi Zen Hei',sans-serif" font-weight="normal" text-anchor="middle">赢</text></g>
<g transform="translate(353,70)" ><rect x="1" y="1" width="14" height="1" fill="#000" /><rect x="1" y="1" width="1" height="12" fill="#000" /><rect x="4" y="1" width="1" height="8" fill="#000" /><rect x="7" y="1" width="1" height="12" fill="#000" /><rect x="10" y="1" width="1" height="8" fill="#000" /><rect x="13" y="1" width="1" height="12" fill="#000" /><rect x="3" y="4" width="1" height="1" fill="#000" /><rect x="3" y="6" width="1" height="1" fill="#000" /><rect x="3" y="8" width="1" height="1" fill="#000" /><rect x="6" y="4" width="1" height="1" fill="#000" /><rect x="6" y="6" width="1" height="1" fill="#000" /><rect x="6" y="8" width="1" height="1" fill="#000" /><rect x="9" y="4" width="1" height="1" fill="#000" /><rect x="9" y="6" width="1" height="1" fill="#000" /><rect x="9" y="8" width="1" height="1" fill="#000" /><rect x="12" y="4" width="1" height="1" fill="#000" /><rect x="12" y="6" width="1" height="1" fill="#000" /><rect x="12" y="8" width="1" height="1" fill="#000" /><rect x="0" y="13" width="3" height="1" fill="#000" /><text x="4.2" y="16" font-size="5.5" fill="#000" font-family="'Liberation Sans',sans-serif" font-weight="bold" letter-spacing="0.6">123</text></g>
<g transform="translate(376,70)" ><rect x="0" y="2" width="1" height="10" fill="#000" /><rect x="7" y="0" width="1" height="16" fill="#000" /><rect x="15" y="2" width="1" height="10" fill="#000" /><rect x="0" y="6" width="16" height="1" fill="#000" /><polygon points="6.8,6.5 4,4.2 4,8.8" fill="#000"/><polygon points="8.2,6.5 11,8.8 11,4.2" fill="#000"/></g>
<rect x="397" y="67" width="1" height="24" fill="#ACA899"/><rect x="398" y="67" width="1" height="24" fill="#fff"/>
<rect x="401" y="69" width="2" height="19" fill="#fff"/><rect x="403" y="69" width="1" height="19" fill="#C8C5B2"/>
<g transform="translate(409,70)" ><rect x="5.5" y="1.5" width="9" height="9" fill="none" stroke="#000" stroke-width="1.2" /><rect x="2" y="0" width="1" height="12" fill="#808080" /><rect x="0" y="0" width="4" height="1" fill="#808080" /><rect x="0" y="5" width="4" height="1" fill="#808080" /><rect x="0" y="11" width="4" height="1" fill="#808080" /><rect x="5" y="13" width="11" height="1" fill="#808080" /><rect x="5" y="12" width="1" height="4" fill="#808080" /><rect x="10" y="12" width="1" height="4" fill="#808080" /><rect x="15" y="12" width="1" height="4" fill="#808080" /></g>
<g transform="translate(432,70)" ><line x1="1" y1="15" x2="5.5" y2="0.5" stroke="#ff0000" stroke-width="0.9"/><line x1="1" y1="15" x2="8.7" y2="0.5" stroke="#ff0000" stroke-width="0.9"/><line x1="1" y1="15" x2="15" y2="1" stroke="#000" stroke-width="0.9"/><line x1="1" y1="15" x2="15.7" y2="7.5" stroke="#ff0000" stroke-width="0.9"/><line x1="1" y1="15" x2="15.7" y2="12.5" stroke="#800000" stroke-width="0.9"/><rect x="0" y="13.5" width="2.5" height="2.5" fill="#c00000" /></g>
<g transform="translate(455,70)" ><rect x="1" y="2.5" width="13" height="13" fill="none" stroke="#000" stroke-width="1.2" /><line x1="0.7" y1="15.5" x2="4" y2="0.5" stroke="#8000a0" stroke-width="0.9"/><line x1="0.7" y1="15.5" x2="9" y2="0.5" stroke="#800000" stroke-width="0.9"/><line x1="0.7" y1="15.5" x2="15.5" y2="0.5" stroke="#ff0000" stroke-width="0.9"/><line x1="0.7" y1="15.5" x2="15.5" y2="6.5" stroke="#800000" stroke-width="0.9"/><line x1="0.7" y1="15.5" x2="15.5" y2="12" stroke="#8000a0" stroke-width="0.9"/><rect x="3" y="0" width="1" height="5" fill="#8000a0" /><rect x="10" y="12" width="6" height="1" fill="#8000a0" /></g>
<g transform="translate(478,70)" ><rect x="0.5" y="0.5" width="13" height="13" fill="none" stroke="#000" stroke-width="1.2" /><line x1="0.7" y1="0.7" x2="15.5" y2="15.5" stroke="#ff0000" stroke-width="0.9"/><line x1="0.7" y1="0.7" x2="15.5" y2="10.5" stroke="#800000" stroke-width="0.9"/><line x1="0.7" y1="0.7" x2="10.5" y2="15.5" stroke="#800000" stroke-width="0.9"/><line x1="0.7" y1="0.7" x2="5.5" y2="15.5" stroke="#8000a0" stroke-width="0.9"/><line x1="0.7" y1="0.7" x2="15.5" y2="5" stroke="#8000a0" stroke-width="0.9"/><rect x="10" y="3" width="6" height="1" fill="#8000a0" /><rect x="5" y="10" width="1" height="6" fill="#8000a0" /></g>
<g transform="translate(501,70)" ><line x1="0.8" y1="15" x2="16" y2="0.3" stroke="#000" stroke-width="0.9"/><line x1="0.8" y1="15" x2="16" y2="7" stroke="#000" stroke-width="0.9"/><line x1="0.8" y1="15" x2="16" y2="10.8" stroke="#000" stroke-width="0.9"/><polygon points="0,15.8 4.5,11.8 5.8,15" fill="#000"/></g>
<g transform="translate(524,70)" ><path d="M0.5 1 L7 14.5 L12 5.5 L15.2 10" stroke="#000" fill="none" stroke-width="0.95" /><rect x="0" y="14.5" width="1" height="1" fill="#606060" /><rect x="2" y="14.5" width="1" height="1" fill="#606060" /><rect x="4" y="14.5" width="1" height="1" fill="#606060" /><rect x="6" y="14.5" width="1" height="1" fill="#606060" /><rect x="8" y="14.5" width="1" height="1" fill="#606060" /><rect x="10" y="14.5" width="1" height="1" fill="#606060" /><rect x="12" y="14.5" width="1" height="1" fill="#606060" /><rect x="14" y="14.5" width="1" height="1" fill="#606060" /></g>
<g transform="translate(547,70)" ><rect x="0" y="0" width="1" height="16" fill="#909090" /><rect x="0" y="0" width="16" height="1" fill="#909090" /><rect x="4" y="0" width="1" height="16" fill="#909090" /><rect x="0" y="4" width="16" height="1" fill="#909090" /><rect x="8" y="0" width="1" height="16" fill="#909090" /><rect x="0" y="8" width="16" height="1" fill="#909090" /><rect x="11" y="0" width="1" height="16" fill="#909090" /><rect x="0" y="11" width="16" height="1" fill="#909090" /><rect x="15" y="0" width="1" height="16" fill="#909090" /><rect x="0" y="15" width="16" height="1" fill="#909090" /><rect x="-0.3" y="3.7" width="1.6" height="1.6" fill="#ff0000" /><rect x="-0.3" y="10.7" width="1.6" height="1.6" fill="#ff0000" /><rect x="3.7" y="-0.3" width="1.6" height="1.6" fill="#ff0000" /><rect x="3.7" y="7.7" width="1.6" height="1.6" fill="#ff0000" /><rect x="3.7" y="14.7" width="1.6" height="1.6" fill="#ff0000" /><rect x="7.7" y="3.7" width="1.6" height="1.6" fill="#ff0000" /><rect x="7.7" y="7.7" width="1.6" height="1.6" fill="#ff0000" /><rect x="7.7" y="10.7" width="1.6" height="1.6" fill="#ff0000" /><rect x="10.7" y="-0.3" width="1.6" height="1.6" fill="#ff0000" /><rect x="10.7" y="7.7" width="1.6" height="1.6" fill="#ff0000" /><rect x="10.7" y="14.7" width="1.6" height="1.6" fill="#ff0000" /><rect x="14.7" y="3.7" width="1.6" height="1.6" fill="#ff0000" /><rect x="14.7" y="10.7" width="1.6" height="1.6" fill="#ff0000" /><circle cx="8.5" cy="8.5" r="2" fill="none" stroke="#808080" stroke-width="0.9"/><circle cx="2.5" cy="2.5" r="1.3" fill="none" stroke="#808080" stroke-width="0.8"/><circle cx="13.5" cy="2.5" r="1.3" fill="none" stroke="#808080" stroke-width="0.8"/><circle cx="2.5" cy="13.5" r="1.3" fill="none" stroke="#808080" stroke-width="0.8"/><circle cx="13.5" cy="13.5" r="1.3" fill="none" stroke="#808080" stroke-width="0.8"/></g>
<g transform="translate(570,70)" ><rect x="0" y="0" width="1" height="16" fill="#909090" /><rect x="0" y="0" width="16" height="1" fill="#909090" /><rect x="4" y="0" width="1" height="16" fill="#909090" /><rect x="0" y="4" width="16" height="1" fill="#909090" /><rect x="8" y="0" width="1" height="16" fill="#909090" /><rect x="0" y="8" width="16" height="1" fill="#909090" /><rect x="11" y="0" width="1" height="16" fill="#909090" /><rect x="0" y="11" width="16" height="1" fill="#909090" /><rect x="15" y="0" width="1" height="16" fill="#909090" /><rect x="0" y="15" width="16" height="1" fill="#909090" /><rect x="-0.3" y="3.7" width="1.6" height="1.6" fill="#ff0000" /><rect x="-0.3" y="10.7" width="1.6" height="1.6" fill="#ff0000" /><rect x="3.7" y="-0.3" width="1.6" height="1.6" fill="#ff0000" /><rect x="3.7" y="7.7" width="1.6" height="1.6" fill="#ff0000" /><rect x="3.7" y="14.7" width="1.6" height="1.6" fill="#ff0000" /><rect x="7.7" y="3.7" width="1.6" height="1.6" fill="#ff0000" /><rect x="7.7" y="7.7" width="1.6" height="1.6" fill="#ff0000" /><rect x="7.7" y="10.7" width="1.6" height="1.6" fill="#ff0000" /><rect x="10.7" y="-0.3" width="1.6" height="1.6" fill="#ff0000" /><rect x="10.7" y="7.7" width="1.6" height="1.6" fill="#ff0000" /><rect x="10.7" y="14.7" width="1.6" height="1.6" fill="#ff0000" /><rect x="14.7" y="3.7" width="1.6" height="1.6" fill="#ff0000" /><rect x="14.7" y="10.7" width="1.6" height="1.6" fill="#ff0000" /><circle cx="8.5" cy="8.5" r="2" fill="none" stroke="#808080" stroke-width="0.9"/><circle cx="2.5" cy="2.5" r="1.3" fill="none" stroke="#808080" stroke-width="0.8"/><circle cx="13.5" cy="2.5" r="1.3" fill="none" stroke="#808080" stroke-width="0.8"/><circle cx="2.5" cy="13.5" r="1.3" fill="none" stroke="#808080" stroke-width="0.8"/><circle cx="13.5" cy="13.5" r="1.3" fill="none" stroke="#808080" stroke-width="0.8"/><rect x="0" y="0" width="1.3" height="16" fill="#000" /><rect x="0" y="14.7" width="16" height="1.3" fill="#000" /><polygon points="0.6,-1 -1.3,2.5 2.6,2.5" fill="#000"/><polygon points="17,15.4 13.5,13.3 13.5,17.3" fill="#000"/><line x1="10" y1="10" x2="14.5" y2="14.5" stroke="#000" stroke-width="0.9"/></g>
<g transform="translate(593,70)" ><rect x="1" y="0" width="1" height="16" fill="#808080" /><rect x="11" y="0" width="1" height="16" fill="#808080" /><line x1="0.5" y1="8.5" x2="15.5" y2="0.8" stroke="#000" stroke-width="0.9"/><line x1="0.5" y1="12" x2="15.5" y2="4.5" stroke="#000" stroke-width="0.9"/><line x1="0.5" y1="15.5" x2="15.5" y2="8.2" stroke="#000" stroke-width="0.9"/></g>
<rect x="614" y="67" width="1" height="24" fill="#ACA899"/><rect x="615" y="67" width="1" height="24" fill="#fff"/>
<rect x="618" y="69" width="2" height="19" fill="#fff"/><rect x="620" y="69" width="1" height="19" fill="#C8C5B2"/>
<g transform="translate(626,70)" ><rect x="1" y="1" width="1" height="15" fill="#000" /><rect x="1" y="1" width="12" height="1" fill="#000" /><rect x="1" y="4" width="8" height="1" fill="#000" /><rect x="1" y="7" width="8" height="1" fill="#000" /><rect x="1" y="10" width="8" height="1" fill="#000" /><rect x="1" y="13" width="8" height="1" fill="#000" /><rect x="1" y="15" width="12" height="1" fill="#000" /><rect x="11" y="3" width="3" height="1" fill="#000" /><rect x="12" y="2" width="1" height="1" fill="#000" /><rect x="11" y="6" width="3" height="1" fill="#000" /><rect x="12" y="5" width="1" height="1" fill="#000" /><rect x="11" y="9" width="3" height="1" fill="#000" /><rect x="12" y="8" width="1" height="1" fill="#000" /><rect x="11" y="12" width="3" height="1" fill="#000" /><rect x="12" y="11" width="1" height="1" fill="#000" /></g>
<g transform="translate(649,70)" ><rect x="0" y="0" width="16" height="1" fill="#ff0000" /><rect x="0" y="15" width="5" height="1" fill="#ff0000" /><path d="M2.5 15 L8 1.5 L12.5 5.5 L16 1.8" stroke="#000" fill="none" stroke-width="0.95" /><text x="6.8" y="16" font-size="10" fill="#ff0000" font-family="'Liberation Sans',sans-serif" font-weight="normal" >%</text></g>
<g transform="translate(672,70)" ><text x="1" y="15.3" font-size="15" fill="#000" font-family="'Liberation Sans',sans-serif" font-weight="normal" >%</text></g>
<g transform="translate(695,70)" ><rect x="0" y="0" width="16" height="1" fill="#000" /><rect x="7" y="3" width="9" height="1" fill="#000" /><rect x="10" y="8" width="6" height="1" fill="#000" /><rect x="0" y="15" width="16" height="1" fill="#000" /><text x="-0.5" y="13.5" font-size="10" fill="#ff0000" font-family="'Liberation Sans',sans-serif" font-weight="normal" >%</text></g>
<g transform="translate(718,70)" ><circle cx="8.3" cy="8.5" r="7.3" fill="#e0e0d4" stroke="#a0a0a0" stroke-width="1"/><text x="8.3" y="12.3" font-size="10" fill="#808000" font-family="'Liberation Sans','WenQuanYi Zen Hei',sans-serif" font-weight="normal" text-anchor="middle">金</text></g>
<g transform="translate(741,70)" ><rect x="0" y="0" width="16" height="1" fill="#000" /><rect x="7" y="3" width="9" height="1" fill="#000" /><rect x="10" y="8" width="6" height="1" fill="#000" /><rect x="0" y="15" width="16" height="1" fill="#000" /><text x="4.5" y="13.8" font-size="9.5" fill="#808000" font-family="'Liberation Sans','WenQuanYi Zen Hei',sans-serif" font-weight="bold" text-anchor="middle">金</text></g>
<g transform="translate(764,70)" ><rect x="2" y="0" width="1" height="16" fill="#000" /><rect x="0" y="1" width="5" height="1" fill="#000" /><rect x="0" y="4.5" width="5" height="1" fill="#000" /><rect x="0" y="8" width="5" height="1" fill="#000" /><rect x="0" y="11.5" width="5" height="1" fill="#000" /><rect x="0" y="15" width="5" height="1" fill="#000" /><g transform="translate(2.5,1.5) scale(0.9)"><polygon points="5,9.5 8,1.5 13,0 14.5,3.5 9,10.5" fill="#808080" stroke="#303030" stroke-width="0.8"/><polygon points="10,0.6 13.5,0 14.8,3.5 13,4.6" fill="#ff0000"/><polygon points="3,11.5 5,8.5 7.2,10.2" fill="#ff0000"/><line x1="7" y1="8" x2="11.5" y2="2.5" stroke="#d8d8d8" stroke-width="0.9"/></g></g>
<g transform="translate(787,70)" ><rect x="0" y="1" width="16" height="1" fill="#ff0000" /><rect x="0" y="15" width="16" height="1" fill="#ff0000" /><rect x="0" y="8" width="16" height="1" fill="#000" /><path d="M0.5 12 Q1.5 12.5 3 8 Q5 1.5 7 4 Q8.5 6 9.5 11 Q11 16 13 10 Q14.5 4 15.5 3.5" stroke="#909090" fill="none" stroke-width="0.95" /></g>
<g transform="translate(810,70)" ><rect x="0" y="1" width="16" height="1" fill="#ff0000" /><rect x="0" y="15" width="16" height="1" fill="#ff0000" /><text x="8" y="13.3" font-size="10.5" fill="#808000" font-family="'Liberation Sans','WenQuanYi Zen Hei',sans-serif" font-weight="bold" text-anchor="middle">金</text></g>
<g transform="translate(833,70)" ><line x1="1" y1="15.2" x2="15.8" y2="0.5" stroke="#000" stroke-width="0.9"/><line x1="6" y1="12.8" x2="15.8" y2="8.3" stroke="#000" stroke-width="0.9"/><line x1="7" y1="14" x2="15.8" y2="11.8" stroke="#000" stroke-width="0.9"/><rect x="1" y="15" width="15" height="1" fill="#000" /><text x="2.8" y="9" font-size="11.5" fill="#ff0000" font-family="'Liberation Sans',sans-serif" font-weight="bold" text-anchor="middle">J</text></g>
<g transform="translate(856,70)" ><line x1="1" y1="15.2" x2="15.8" y2="0.5" stroke="#000" stroke-width="0.9"/><line x1="6" y1="12.8" x2="15.8" y2="8.3" stroke="#000" stroke-width="0.9"/><line x1="7" y1="14" x2="15.8" y2="11.8" stroke="#000" stroke-width="0.9"/><rect x="1" y="15" width="15" height="1" fill="#000" /><text x="3.5" y="9.3" font-size="12" fill="#ff0000" font-family="'Liberation Sans',sans-serif" font-weight="bold" text-anchor="middle">F</text></g>
<g transform="translate(879,70)" ><line x1="1" y1="15.2" x2="15.8" y2="0.5" stroke="#000" stroke-width="0.9"/><line x1="6" y1="12.8" x2="15.8" y2="8.3" stroke="#000" stroke-width="0.9"/><line x1="7" y1="14" x2="15.8" y2="11.8" stroke="#000" stroke-width="0.9"/><rect x="1" y="15" width="15" height="1" fill="#000" /><text x="5" y="10" font-size="10.5" fill="#808000" font-family="'Liberation Sans','WenQuanYi Zen Hei',sans-serif" font-weight="bold" text-anchor="middle">金</text></g>
<g transform="translate(902,70)" ><line x1="1" y1="15.2" x2="15.8" y2="0.5" stroke="#000" stroke-width="0.9"/><line x1="6" y1="12.8" x2="15.8" y2="8.3" stroke="#000" stroke-width="0.9"/><line x1="7" y1="14" x2="15.8" y2="11.8" stroke="#000" stroke-width="0.9"/><rect x="1" y="15" width="15" height="1" fill="#000" /><text x="5.5" y="10" font-size="11" fill="#ff0000" font-family="'Liberation Sans','WenQuanYi Zen Hei',sans-serif" font-weight="normal" text-anchor="middle">神</text></g>
<g transform="translate(925,70)" ><line x1="1" y1="15.2" x2="15.8" y2="0.5" stroke="#000" stroke-width="0.9"/><line x1="6" y1="12.8" x2="15.8" y2="8.3" stroke="#000" stroke-width="0.9"/><line x1="7" y1="14" x2="15.8" y2="11.8" stroke="#000" stroke-width="0.9"/><rect x="1" y="15" width="15" height="1" fill="#000" /><text x="6" y="10.5" font-size="11.5" fill="#ff0000" font-family="'Liberation Sans','WenQuanYi Zen Hei',sans-serif" font-weight="normal" text-anchor="middle">赢</text></g>
<g transform="translate(948,70)" ><line x1="1" y1="15.2" x2="15.8" y2="0.5" stroke="#000" stroke-width="0.9"/><line x1="6" y1="12.8" x2="15.8" y2="8.3" stroke="#000" stroke-width="0.9"/><line x1="7" y1="14" x2="15.8" y2="11.8" stroke="#000" stroke-width="0.9"/><rect x="1" y="15" width="15" height="1" fill="#000" /><text x="5" y="9" font-size="10" fill="#ff0000" font-family="'Liberation Sans','WenQuanYi Zen Hei',sans-serif" font-weight="normal" text-anchor="middle">四</text></g></svg>
<div class="hl" style="top:104px;background:#A0A0A0"></div>
<div class="abs" style="left:1338px;top:115px;width:2px;height:2px;background:#0000ff"></div>
<svg id="chart" width="1340" height="828" viewBox="0 0 1340 828" style="position:absolute;left:0;top:0">
<line x1="21" x2="1340" y1="690.5" y2="690.5" stroke="#909090" stroke-width="1" stroke-dasharray="4,4" shape-rendering="crispEdges"/>
<line x1="21" x2="1340" y1="715.5" y2="715.5" stroke="#909090" stroke-width="1" stroke-dasharray="4,4" shape-rendering="crispEdges"/>
<line x1="21" x2="1340" y1="740.5" y2="740.5" stroke="#909090" stroke-width="1" stroke-dasharray="4,4" shape-rendering="crispEdges"/>
<line x1="21" x2="1340" y1="765.5" y2="765.5" stroke="#909090" stroke-width="1" stroke-dasharray="4,4" shape-rendering="crispEdges"/>
<line x1="1257" x2="1340" y1="339.5" y2="339.5" stroke="#808080" stroke-width="1" stroke-dasharray="3,2" shape-rendering="crispEdges"/>
<defs><filter id="th2" x="0" y="0" width="1340" height="828" filterUnits="userSpaceOnUse" color-interpolation-filters="sRGB"><feComponentTransfer><feFuncA type="discrete" tableValues="0 0 1 1 1"/></feComponentTransfer></filter></defs>
<defs><clipPath id="cc"><rect x="0" y="105" width="1340" height="585.4"/></clipPath></defs>
<g filter="url(#th2)"><g clip-path="url(#cc)">
<polyline fill="none" stroke="#ff0000" stroke-width="0.85" stroke-linejoin="round" points="22.0,454.7 37.5,451.2 52.5,447.7 66.0,445.7 80.0,438.9 95.0,438.2 110.0,435.7 130.0,428.9 146.0,424.7 157.5,424.7 173.8,419.2 182.5,423.4 199.0,424.2 207.5,421.7 225.0,423.9 236.0,428.2 247.5,427.7 257.5,432.2 267.5,432.7 285.0,438.9 300.0,447.7 312.5,455.2 325.0,460.2 335.0,463.2 347.5,467.7 360.0,470.7 375.0,470.2 382.5,467.2 395.0,468.2 410.0,467.2 415.5,464.4 422.5,468.2 435.0,467.7 452.5,459.7 470.0,454.7 485.0,447.7 500.0,441.4 510.0,435.2 525.0,429.7 540.0,425.7 560.0,422.7 575.0,421.4 590.0,418.2 596.8,416.4 601.0,418.9 610.0,417.7 622.5,420.2 632.5,425.2 647.5,426.4 660.0,432.2 670.0,435.2 682.5,437.7 695.0,441.4 715.0,444.7 730.0,447.2 745.0,445.7 765.0,444.7 782.5,440.2 797.5,439.7 803.8,434.7 812.5,432.2 826.2,431.4 835.0,425.7 845.0,413.7 855.0,404.7 861.0,400.7 870.0,391.4 877.5,381.4 887.5,376.4 897.5,367.7 903.8,358.9 910.0,353.9 920.0,340.2 926.2,330.2 932.5,324.7 942.5,312.7 950.0,303.9 955.0,300.2 962.5,290.2 970.0,283.9 976.2,276.4 982.5,272.7 991.2,262.7 997.5,257.7 1005.0,244.7 1015.0,230.9 1027.5,227.2 1037.5,216.4 1050.0,205.2 1062.5,203.2 1077.5,190.7 1090.0,184.4 1105.0,180.7 1117.5,174.7 1127.5,171.4 1132.5,171.4 1140.0,165.7 1150.0,161.4 1160.0,155.7 1175.0,148.9 1188.8,136.4 1192.5,137.2 1201.2,127.2 1210.5,122.7 1218.8,127.2 1225.0,134.4 1230.0,135.2 1245.0,134.7 1255.0,141.4 1265.0,148.2 1271.2,154.4 1280.0,158.4 1292.5,170.2 1305.0,180.2 1315.0,187.2 1326.2,191.4 1332.5,200.2 1340.0,204.7"/>
<polyline fill="none" stroke="#ff0000" stroke-width="0.85" stroke-linejoin="round" points="22.0,651.5 31.0,649.5 40.0,651.5 46.0,650.7 56.0,651.7 65.5,649.5 80.0,655.7 94.0,649.7 105.0,648.2 112.5,644.2 125.0,645.2 147.5,644.5 156.0,639.5 172.5,637.7 184.0,630.2 196.0,629.0 200.5,625.2 204.0,629.7 222.5,632.2 236.0,631.2 250.0,640.2 260.0,640.7 267.5,644.7 275.0,643.5 285.0,645.7 292.5,641.5 297.5,642.2 307.5,640.5 319.0,641.7 327.5,645.7 335.0,648.2 347.5,649.7 360.0,653.2 375.0,659.7 382.5,666.5 392.5,665.2 407.5,667.0 415.5,672.0 422.5,665.2 432.5,663.5 445.0,666.0 452.5,667.7 460.0,663.5 467.5,658.5 475.0,659.5 485.0,655.2 502.5,652.0 507.5,654.5 520.0,649.7 535.0,649.5 552.5,644.7 562.5,646.5 575.0,643.5 583.8,642.2 592.5,643.5 596.2,646.5 600.0,644.5 610.0,651.0 620.0,653.5 627.5,653.2 632.5,649.7 640.0,652.2 655.0,652.2 658.8,649.7 665.0,651.0 670.0,650.7 677.5,655.7 685.0,657.0 690.0,659.0 697.5,658.2 705.0,661.5 720.0,661.5 735.0,662.2 742.5,664.7 757.5,664.7 775.0,667.2 778.8,665.7 785.0,668.2 796.2,668.5 801.8,676.0 806.2,673.5 810.0,676.0 815.0,672.7 820.0,672.0 826.8,667.7 832.5,670.2 840.0,678.5 850.0,683.2 858.8,680.2 865.0,683.2 870.0,684.0 877.0,689.5 885.0,686.5 895.0,684.7 900.0,686.5 910.0,683.5 920.0,684.0 925.0,684.7 931.2,682.7 935.0,684.7 942.5,685.2 948.8,688.2 952.5,686.0 960.0,690.2 970.0,685.7 975.0,686.5 981.2,684.0 988.8,684.7 992.5,680.7 996.2,684.0 1000.0,682.2 1005.0,686.5 1010.0,690.7 1015.0,686.5 1020.0,677.2 1028.8,669.0 1037.5,669.0 1042.5,666.5 1050.0,659.0 1063.8,639.7 1072.5,637.7 1077.5,639.0 1082.0,636.0 1088.8,637.2 1095.0,632.7 1102.5,629.7 1110.0,625.2 1117.5,623.5 1121.2,619.0 1126.2,618.2 1130.0,614.0 1135.0,613.5 1140.0,615.7 1144.2,611.0 1148.8,613.2 1153.2,609.5 1157.5,611.5 1165.0,605.7 1170.0,606.5 1177.5,603.2 1183.8,602.7 1188.8,607.7 1192.5,602.7 1198.8,610.2 1210.0,615.2 1218.8,607.7 1223.8,599.5 1228.8,598.2 1243.8,603.5 1255.0,599.7 1263.8,591.5 1268.8,582.7 1280.0,575.2 1292.5,559.0 1305.0,542.7 1312.5,530.2 1325.0,520.2 1332.5,508.9 1340.0,503.9"/>
<polyline fill="none" stroke="#0000ff" stroke-width="0.85" stroke-linejoin="round" points="22.0,493.9 37.5,491.4 52.5,488.9 66.0,486.4 80.0,481.4 95.0,480.2 110.0,476.4 130.0,471.4 146.0,468.2 157.5,466.4 173.8,462.7 182.5,464.4 199.0,464.7 207.5,463.7 225.0,465.2 236.0,467.7 247.5,468.9 257.5,472.7 267.5,475.2 285.0,479.7 300.0,486.4 312.5,493.2 325.0,497.2 335.0,499.9 347.5,503.9 362.5,507.7 380.0,507.2 395.0,506.9 410.0,506.4 422.5,507.7 432.5,507.2 445.0,502.7 460.0,498.2 475.0,491.4 495.0,485.2 510.0,478.4 525.0,473.9 540.0,470.2 560.0,467.2 575.0,465.7 590.0,463.2 596.8,462.7 610.0,463.9 622.5,466.4 635.0,468.9 647.5,471.4 660.0,475.2 670.0,478.2 685.0,481.9 702.5,485.7 725.0,489.4 745.0,489.4 765.0,488.2 780.0,487.2 797.5,484.7 810.0,480.7 825.0,479.7 835.0,473.9 845.0,467.2 855.0,459.7 867.5,450.2 876.2,443.2 887.5,437.7 900.0,428.7 910.0,420.7 920.0,410.7 927.5,401.4 935.0,393.9 945.0,383.9 957.5,373.9 970.0,362.7 982.5,352.7 995.0,345.2 1005.0,332.2 1015.0,320.7 1022.5,317.2 1030.0,312.7 1037.5,306.4 1050.0,295.2 1062.5,290.7 1077.5,280.2 1090.0,274.4 1105.0,269.2 1120.0,261.4 1132.5,259.7 1142.5,252.9 1160.0,245.2 1175.0,239.4 1185.0,232.7 1200.0,223.9 1211.2,220.2 1218.8,222.2 1225.0,226.9 1235.0,226.4 1245.0,227.7 1255.0,231.4 1270.0,238.4 1280.0,240.7 1295.0,248.4 1312.5,254.7 1326.2,256.4 1332.5,260.9 1340.0,264.7"/>
<polyline fill="none" stroke="#0000ff" stroke-width="0.85" stroke-linejoin="round" points="22.0,597.2 42.5,595.7 62.5,594.5 80.0,595.2 94.0,591.2 110.0,588.2 130.0,586.2 147.5,584.5 156.0,580.7 175.0,578.5 184.0,574.5 200.0,570.7 207.5,573.5 225.0,575.2 240.0,576.2 250.0,581.7 265.0,585.5 285.0,588.2 320.0,592.2 335.0,597.2 347.5,600.7 360.0,602.7 382.5,611.5 397.5,612.7 410.0,613.2 416.0,615.2 422.5,611.5 440.0,610.2 455.0,610.2 470.0,602.7 485.0,598.2 510.0,594.0 527.5,589.0 547.5,585.7 567.5,584.0 583.8,581.5 600.0,582.7 617.5,589.0 632.5,588.2 650.0,591.5 658.8,589.5 670.0,592.2 687.5,599.7 707.5,601.5 727.5,603.2 747.5,605.7 757.5,604.0 772.5,605.7 778.8,604.0 785.0,606.5 795.0,606.5 802.5,609.5 810.0,609.5 820.0,605.7 827.5,602.2 840.0,607.7 850.0,607.7 860.0,604.0 870.0,603.2 876.2,605.2 885.0,601.5 900.0,598.2 910.0,593.2 925.0,588.2 942.5,582.7 961.2,580.2 972.5,574.5 985.0,570.2 992.5,567.0 1001.2,564.7 1005.0,566.0 1010.0,565.7 1020.0,554.0 1031.2,545.7 1037.5,544.7 1050.0,534.7 1063.8,519.5 1080.0,514.0 1090.0,512.7 1105.0,505.2 1120.0,497.2 1132.5,491.4 1147.5,488.9 1165.0,481.9 1180.0,476.4 1187.5,478.9 1192.5,475.7 1202.5,479.7 1210.0,480.7 1220.0,475.7 1223.8,471.4 1230.0,471.4 1246.2,475.7 1255.0,473.2 1265.0,470.2 1271.2,463.9 1285.0,458.9 1300.0,448.9 1312.5,436.4 1325.0,430.2 1332.5,424.7 1340.0,422.2"/>
<polyline fill="none" stroke="#000000" stroke-width="0.85" stroke-linejoin="round" points="22.0,538.5 37.5,536.5 52.5,534.7 66.0,532.7 80.0,531.0 95.0,528.2 110.0,525.2 130.0,521.5 146.0,519.5 157.5,516.5 173.8,513.5 182.5,512.7 199.0,510.7 207.5,510.2 225.0,512.7 236.0,514.5 247.5,517.7 257.5,520.2 267.5,523.2 285.0,526.5 300.0,530.2 312.5,534.0 325.0,538.2 335.0,540.7 347.5,544.7 362.5,547.7 377.5,551.5 397.5,551.7 417.5,552.2 435.0,550.7 452.5,547.2 470.0,541.5 485.0,536.5 505.0,529.7 520.0,524.0 535.0,520.7 550.0,517.7 567.5,515.7 585.0,514.5 600.0,513.2 610.0,515.2 625.0,519.0 645.0,522.0 660.0,524.0 670.0,526.2 685.0,530.7 702.5,534.0 720.0,537.0 735.0,538.2 770.0,538.2 790.0,537.2 807.5,536.5 825.0,532.2 840.0,529.0 855.0,522.7 870.0,515.2 887.5,507.7 900.0,500.7 910.0,492.7 920.0,485.2 932.5,475.2 945.0,467.7 957.5,460.2 970.0,452.7 982.5,445.2 995.0,438.2 1005.0,432.7 1020.0,421.4 1037.5,408.9 1055.0,395.2 1070.0,386.4 1082.5,378.9 1097.5,375.2 1112.5,367.7 1127.5,361.9 1140.0,357.2 1155.0,352.7 1162.5,348.2 1180.0,341.4 1195.0,334.7 1210.0,331.4 1220.0,330.2 1230.0,331.4 1242.5,333.2 1255.0,335.7 1300.0,335.7 1310.0,332.7 1327.5,330.2 1340.0,331.4"/>
<ellipse cx="113" cy="485" rx="23.75" ry="21.75" fill="none" stroke="#ff0000" stroke-width="0.85"/>
<ellipse cx="258" cy="592" rx="25" ry="23.5" fill="none" stroke="#ff0000" stroke-width="0.85"/>
<ellipse cx="455.75" cy="511.25" rx="25.75" ry="20.75" fill="none" stroke="#ff0000" stroke-width="0.85"/>
<ellipse cx="876.25" cy="438" rx="24.5" ry="24" fill="none" stroke="#ff0000" stroke-width="0.85"/>
<ellipse cx="942.5" cy="371.75" rx="28" ry="20.5" fill="none" stroke="#ff0000" stroke-width="0.85"/>
<ellipse cx="1039.25" cy="318.75" rx="24" ry="19.5" fill="none" stroke="#ff0000" stroke-width="0.85"/>
</g></g>
<g shape-rendering="crispEdges">
<rect x="22" y="510" width="1" height="8" fill="#008000"/>
<rect x="21" y="513" width="3" height="1" fill="#008000"/>
<rect x="21" y="778" width="3" height="12" fill="#008000"/>
<rect x="26" y="511" width="1" height="8" fill="#008000"/>
<rect x="25" y="516" width="3" height="2" fill="#008000"/>
<rect x="25" y="780" width="3" height="10" fill="#008000"/>
<rect x="31" y="512" width="1" height="7" fill="#ff0000"/>
<rect x="30" y="515" width="3" height="2" fill="#ff0000"/>
<rect x="30" y="781" width="3" height="9" fill="#ff0000"/>
<rect x="31" y="782" width="1" height="7" fill="#fff"/>
<rect x="35" y="514" width="1" height="16" fill="#008000"/>
<rect x="34" y="515" width="3" height="11" fill="#008000"/>
<rect x="34" y="779" width="3" height="11" fill="#008000"/>
<rect x="40" y="526" width="1" height="9" fill="#008000"/>
<rect x="39" y="527" width="3" height="3" fill="#008000"/>
<rect x="39" y="783" width="3" height="7" fill="#008000"/>
<rect x="44" y="520" width="1" height="11" fill="#ff0000"/>
<rect x="43" y="522" width="3" height="8" fill="#ff0000"/>
<rect x="44" y="523" width="1" height="6" fill="#fff"/>
<rect x="43" y="777" width="3" height="13" fill="#ff0000"/>
<rect x="44" y="778" width="1" height="11" fill="#fff"/>
<rect x="49" y="522" width="1" height="8" fill="#008000"/>
<rect x="48" y="524" width="3" height="6" fill="#008000"/>
<rect x="48" y="783" width="3" height="7" fill="#008000"/>
<rect x="53" y="529" width="1" height="11" fill="#008000"/>
<rect x="52" y="530" width="3" height="7" fill="#008000"/>
<rect x="52" y="780" width="3" height="10" fill="#008000"/>
<rect x="58" y="526" width="1" height="12" fill="#ff0000"/>
<rect x="57" y="529" width="3" height="8" fill="#ff0000"/>
<rect x="58" y="530" width="1" height="6" fill="#fff"/>
<rect x="57" y="776" width="3" height="14" fill="#ff0000"/>
<rect x="58" y="777" width="1" height="12" fill="#fff"/>
<rect x="62" y="522" width="1" height="7" fill="#ff0000"/>
<rect x="61" y="528" width="3" height="1" fill="#ff0000"/>
<rect x="61" y="782" width="3" height="8" fill="#ff0000"/>
<rect x="62" y="783" width="1" height="6" fill="#fff"/>
<rect x="67" y="524" width="1" height="8" fill="#ff0000"/>
<rect x="66" y="530" width="3" height="1" fill="#ff0000"/>
<rect x="66" y="783" width="3" height="7" fill="#ff0000"/>
<rect x="67" y="784" width="1" height="5" fill="#fff"/>
<rect x="71" y="508" width="1" height="22" fill="#ff0000"/>
<rect x="70" y="518" width="3" height="12" fill="#ff0000"/>
<rect x="71" y="519" width="1" height="10" fill="#fff"/>
<rect x="70" y="766" width="3" height="24" fill="#ff0000"/>
<rect x="71" y="767" width="1" height="22" fill="#fff"/>
<rect x="75" y="508" width="1" height="14" fill="#ff0000"/>
<rect x="74" y="518" width="3" height="3" fill="#ff0000"/>
<rect x="75" y="519" width="1" height="1" fill="#fff"/>
<rect x="74" y="761" width="3" height="29" fill="#ff0000"/>
<rect x="75" y="762" width="1" height="27" fill="#fff"/>
<rect x="80" y="509" width="1" height="15" fill="#ff0000"/>
<rect x="79" y="510" width="3" height="10" fill="#ff0000"/>
<rect x="80" y="511" width="1" height="8" fill="#fff"/>
<rect x="79" y="766" width="3" height="24" fill="#ff0000"/>
<rect x="80" y="767" width="1" height="22" fill="#fff"/>
<rect x="84" y="491" width="1" height="21" fill="#ff0000"/>
<rect x="83" y="498" width="3" height="14" fill="#ff0000"/>
<rect x="84" y="499" width="1" height="12" fill="#fff"/>
<rect x="83" y="756" width="3" height="34" fill="#ff0000"/>
<rect x="84" y="757" width="1" height="32" fill="#fff"/>
<rect x="89" y="488" width="1" height="9" fill="#ff0000"/>
<rect x="88" y="491" width="3" height="5" fill="#ff0000"/>
<rect x="89" y="492" width="1" height="3" fill="#fff"/>
<rect x="88" y="758" width="3" height="32" fill="#ff0000"/>
<rect x="89" y="759" width="1" height="30" fill="#fff"/>
<rect x="93" y="487" width="1" height="12" fill="#008000"/>
<rect x="92" y="492" width="3" height="2" fill="#008000"/>
<rect x="92" y="760" width="3" height="30" fill="#008000"/>
<rect x="98" y="484" width="1" height="12" fill="#008000"/>
<rect x="97" y="491" width="3" height="3" fill="#008000"/>
<rect x="97" y="778" width="3" height="12" fill="#008000"/>
<rect x="102" y="491" width="1" height="13" fill="#008000"/>
<rect x="101" y="494" width="3" height="5" fill="#008000"/>
<rect x="101" y="781" width="3" height="9" fill="#008000"/>
<rect x="107" y="481" width="1" height="17" fill="#ff0000"/>
<rect x="106" y="485" width="3" height="13" fill="#ff0000"/>
<rect x="107" y="486" width="1" height="11" fill="#fff"/>
<rect x="106" y="772" width="3" height="18" fill="#ff0000"/>
<rect x="107" y="773" width="1" height="16" fill="#fff"/>
<rect x="111" y="482" width="1" height="7" fill="#008000"/>
<rect x="110" y="482" width="3" height="6" fill="#008000"/>
<rect x="110" y="771" width="3" height="19" fill="#008000"/>
<rect x="115" y="475" width="1" height="15" fill="#ff0000"/>
<rect x="114" y="476" width="3" height="13" fill="#ff0000"/>
<rect x="115" y="477" width="1" height="11" fill="#fff"/>
<rect x="114" y="769" width="3" height="21" fill="#ff0000"/>
<rect x="115" y="770" width="1" height="19" fill="#fff"/>
<rect x="120" y="474" width="1" height="10" fill="#008000"/>
<rect x="119" y="478" width="3" height="6" fill="#008000"/>
<rect x="119" y="776" width="3" height="14" fill="#008000"/>
<rect x="124" y="483" width="1" height="11" fill="#008000"/>
<rect x="123" y="484" width="3" height="8" fill="#008000"/>
<rect x="123" y="764" width="3" height="26" fill="#008000"/>
<rect x="129" y="489" width="1" height="13" fill="#008000"/>
<rect x="128" y="493" width="3" height="6" fill="#008000"/>
<rect x="128" y="770" width="3" height="20" fill="#008000"/>
<rect x="133" y="492" width="1" height="8" fill="#ff0000"/>
<rect x="132" y="496" width="3" height="3" fill="#ff0000"/>
<rect x="133" y="497" width="1" height="1" fill="#fff"/>
<rect x="132" y="779" width="3" height="11" fill="#ff0000"/>
<rect x="133" y="780" width="1" height="9" fill="#fff"/>
<rect x="138" y="493" width="1" height="9" fill="#008000"/>
<rect x="137" y="496" width="3" height="3" fill="#008000"/>
<rect x="137" y="777" width="3" height="13" fill="#008000"/>
<rect x="142" y="496" width="1" height="8" fill="#008000"/>
<rect x="141" y="499" width="3" height="3" fill="#008000"/>
<rect x="141" y="781" width="3" height="9" fill="#008000"/>
<rect x="147" y="494" width="1" height="7" fill="#ff0000"/>
<rect x="146" y="495" width="3" height="1" fill="#ff0000"/>
<rect x="146" y="784" width="3" height="6" fill="#ff0000"/>
<rect x="147" y="785" width="1" height="4" fill="#fff"/>
<rect x="151" y="495" width="1" height="3" fill="#008000"/>
<rect x="150" y="496" width="3" height="2" fill="#008000"/>
<rect x="150" y="786" width="3" height="4" fill="#008000"/>
<rect x="156" y="498" width="1" height="4" fill="#ff0000"/>
<rect x="155" y="499" width="3" height="2" fill="#ff0000"/>
<rect x="155" y="788" width="3" height="2" fill="#ff0000"/>
<rect x="156" y="789" width="1" height="0" fill="#fff"/>
<rect x="160" y="490" width="1" height="8" fill="#ff0000"/>
<rect x="159" y="490" width="3" height="7" fill="#ff0000"/>
<rect x="160" y="491" width="1" height="5" fill="#fff"/>
<rect x="159" y="781" width="3" height="9" fill="#ff0000"/>
<rect x="160" y="782" width="1" height="7" fill="#fff"/>
<rect x="164" y="489" width="1" height="3" fill="#008000"/>
<rect x="163" y="490" width="3" height="2" fill="#008000"/>
<rect x="163" y="786" width="3" height="4" fill="#008000"/>
<rect x="169" y="491" width="1" height="13" fill="#008000"/>
<rect x="168" y="492" width="3" height="12" fill="#008000"/>
<rect x="168" y="781" width="3" height="9" fill="#008000"/>
<rect x="173" y="504" width="1" height="12" fill="#008000"/>
<rect x="172" y="504" width="3" height="8" fill="#008000"/>
<rect x="172" y="779" width="3" height="11" fill="#008000"/>
<rect x="178" y="509" width="1" height="6" fill="#ff0000"/>
<rect x="177" y="512" width="3" height="2" fill="#ff0000"/>
<rect x="177" y="786" width="3" height="4" fill="#ff0000"/>
<rect x="178" y="787" width="1" height="2" fill="#fff"/>
<rect x="182" y="512" width="1" height="4" fill="#008000"/>
<rect x="181" y="514" width="3" height="1" fill="#008000"/>
<rect x="181" y="786" width="3" height="4" fill="#008000"/>
<rect x="187" y="510" width="1" height="10" fill="#ff0000"/>
<rect x="186" y="512" width="3" height="4" fill="#ff0000"/>
<rect x="187" y="513" width="1" height="2" fill="#fff"/>
<rect x="186" y="786" width="3" height="4" fill="#ff0000"/>
<rect x="187" y="787" width="1" height="2" fill="#fff"/>
<rect x="191" y="508" width="1" height="9" fill="#008000"/>
<rect x="190" y="508" width="3" height="3" fill="#008000"/>
<rect x="190" y="786" width="3" height="4" fill="#008000"/>
<rect x="196" y="512" width="1" height="7" fill="#ff0000"/>
<rect x="195" y="512" width="3" height="1" fill="#ff0000"/>
<rect x="195" y="786" width="3" height="4" fill="#ff0000"/>
<rect x="196" y="787" width="1" height="2" fill="#fff"/>
<rect x="200" y="510" width="1" height="12" fill="#008000"/>
<rect x="199" y="512" width="3" height="8" fill="#008000"/>
<rect x="199" y="784" width="3" height="6" fill="#008000"/>
<rect x="205" y="521" width="1" height="28" fill="#008000"/>
<rect x="204" y="522" width="3" height="16" fill="#008000"/>
<rect x="204" y="781" width="3" height="9" fill="#008000"/>
<rect x="209" y="540" width="1" height="10" fill="#008000"/>
<rect x="208" y="542" width="3" height="6" fill="#008000"/>
<rect x="208" y="782" width="3" height="8" fill="#008000"/>
<rect x="213" y="548" width="1" height="8" fill="#008000"/>
<rect x="212" y="550" width="3" height="2" fill="#008000"/>
<rect x="212" y="783" width="3" height="7" fill="#008000"/>
<rect x="218" y="548" width="1" height="7" fill="#ff0000"/>
<rect x="217" y="550" width="3" height="2" fill="#ff0000"/>
<rect x="217" y="786" width="3" height="4" fill="#ff0000"/>
<rect x="218" y="787" width="1" height="2" fill="#fff"/>
<rect x="222" y="550" width="1" height="9" fill="#008000"/>
<rect x="221" y="550" width="3" height="1" fill="#008000"/>
<rect x="221" y="782" width="3" height="8" fill="#008000"/>
<rect x="227" y="550" width="1" height="6" fill="#008000"/>
<rect x="226" y="550" width="3" height="3" fill="#008000"/>
<rect x="226" y="786" width="3" height="4" fill="#008000"/>
<rect x="231" y="550" width="1" height="4" fill="#ff0000"/>
<rect x="230" y="550" width="3" height="2" fill="#ff0000"/>
<rect x="230" y="786" width="3" height="4" fill="#ff0000"/>
<rect x="231" y="787" width="1" height="2" fill="#fff"/>
<rect x="236" y="550" width="1" height="6" fill="#008000"/>
<rect x="235" y="550" width="3" height="4" fill="#008000"/>
<rect x="235" y="784" width="3" height="6" fill="#008000"/>
<rect x="240" y="556" width="1" height="21" fill="#008000"/>
<rect x="239" y="557" width="3" height="19" fill="#008000"/>
<rect x="239" y="770" width="3" height="20" fill="#008000"/>
<rect x="245" y="574" width="1" height="4" fill="#ff0000"/>
<rect x="244" y="576" width="3" height="1" fill="#ff0000"/>
<rect x="244" y="786" width="3" height="4" fill="#ff0000"/>
<rect x="245" y="787" width="1" height="2" fill="#fff"/>
<rect x="249" y="574" width="1" height="20" fill="#008000"/>
<rect x="248" y="576" width="3" height="15" fill="#008000"/>
<rect x="248" y="777" width="3" height="13" fill="#008000"/>
<rect x="253" y="586" width="1" height="6" fill="#ff0000"/>
<rect x="252" y="586" width="3" height="2" fill="#ff0000"/>
<rect x="252" y="783" width="3" height="7" fill="#ff0000"/>
<rect x="253" y="784" width="1" height="5" fill="#fff"/>
<rect x="258" y="585" width="1" height="3" fill="#008000"/>
<rect x="257" y="586" width="3" height="1" fill="#008000"/>
<rect x="257" y="788" width="3" height="2" fill="#008000"/>
<rect x="262" y="580" width="1" height="12" fill="#ff0000"/>
<rect x="261" y="582" width="3" height="4" fill="#ff0000"/>
<rect x="262" y="583" width="1" height="2" fill="#fff"/>
<rect x="261" y="788" width="3" height="2" fill="#ff0000"/>
<rect x="262" y="789" width="1" height="0" fill="#fff"/>
<rect x="267" y="566" width="1" height="16" fill="#ff0000"/>
<rect x="266" y="571" width="3" height="10" fill="#ff0000"/>
<rect x="267" y="572" width="1" height="8" fill="#fff"/>
<rect x="266" y="786" width="3" height="4" fill="#ff0000"/>
<rect x="267" y="787" width="1" height="2" fill="#fff"/>
<rect x="271" y="571" width="1" height="3" fill="#008000"/>
<rect x="270" y="572" width="3" height="2" fill="#008000"/>
<rect x="270" y="788" width="3" height="2" fill="#008000"/>
<rect x="276" y="570" width="1" height="7" fill="#ff0000"/>
<rect x="275" y="572" width="3" height="3" fill="#ff0000"/>
<rect x="276" y="573" width="1" height="1" fill="#fff"/>
<rect x="275" y="786" width="3" height="4" fill="#ff0000"/>
<rect x="276" y="787" width="1" height="2" fill="#fff"/>
<rect x="280" y="569" width="1" height="5" fill="#ff0000"/>
<rect x="279" y="570" width="3" height="1" fill="#ff0000"/>
<rect x="279" y="784" width="3" height="6" fill="#ff0000"/>
<rect x="280" y="785" width="1" height="4" fill="#fff"/>
<rect x="285" y="571" width="1" height="7" fill="#008000"/>
<rect x="284" y="571" width="3" height="6" fill="#008000"/>
<rect x="284" y="780" width="3" height="10" fill="#008000"/>
<rect x="289" y="577" width="1" height="3" fill="#008000"/>
<rect x="288" y="578" width="3" height="2" fill="#008000"/>
<rect x="288" y="783" width="3" height="7" fill="#008000"/>
<rect x="294" y="581" width="1" height="3" fill="#008000"/>
<rect x="293" y="581" width="3" height="2" fill="#008000"/>
<rect x="293" y="788" width="3" height="2" fill="#008000"/>
<rect x="298" y="570" width="1" height="12" fill="#ff0000"/>
<rect x="297" y="574" width="3" height="7" fill="#ff0000"/>
<rect x="298" y="575" width="1" height="5" fill="#fff"/>
<rect x="297" y="779" width="3" height="11" fill="#ff0000"/>
<rect x="298" y="780" width="1" height="9" fill="#fff"/>
<rect x="302" y="564" width="1" height="10" fill="#ff0000"/>
<rect x="301" y="564" width="3" height="6" fill="#ff0000"/>
<rect x="302" y="565" width="1" height="4" fill="#fff"/>
<rect x="301" y="776" width="3" height="14" fill="#ff0000"/>
<rect x="302" y="777" width="1" height="12" fill="#fff"/>
<rect x="307" y="563" width="1" height="3" fill="#008000"/>
<rect x="306" y="564" width="3" height="2" fill="#008000"/>
<rect x="306" y="780" width="3" height="10" fill="#008000"/>
<rect x="311" y="563" width="1" height="5" fill="#ff0000"/>
<rect x="310" y="564" width="3" height="4" fill="#ff0000"/>
<rect x="311" y="565" width="1" height="2" fill="#fff"/>
<rect x="310" y="783" width="3" height="7" fill="#ff0000"/>
<rect x="311" y="784" width="1" height="5" fill="#fff"/>
<rect x="316" y="560" width="1" height="6" fill="#ff0000"/>
<rect x="315" y="562" width="3" height="3" fill="#ff0000"/>
<rect x="316" y="563" width="1" height="1" fill="#fff"/>
<rect x="315" y="786" width="3" height="4" fill="#ff0000"/>
<rect x="316" y="787" width="1" height="2" fill="#fff"/>
<rect x="320" y="559" width="1" height="11" fill="#008000"/>
<rect x="319" y="561" width="3" height="4" fill="#008000"/>
<rect x="319" y="781" width="3" height="9" fill="#008000"/>
<rect x="325" y="548" width="1" height="19" fill="#ff0000"/>
<rect x="324" y="550" width="3" height="15" fill="#ff0000"/>
<rect x="325" y="551" width="1" height="13" fill="#fff"/>
<rect x="324" y="763" width="3" height="27" fill="#ff0000"/>
<rect x="325" y="764" width="1" height="25" fill="#fff"/>
<rect x="329" y="547" width="1" height="8" fill="#008000"/>
<rect x="328" y="547" width="3" height="1" fill="#008000"/>
<rect x="328" y="766" width="3" height="24" fill="#008000"/>
<rect x="334" y="539" width="1" height="11" fill="#ff0000"/>
<rect x="333" y="541" width="3" height="8" fill="#ff0000"/>
<rect x="334" y="542" width="1" height="6" fill="#fff"/>
<rect x="333" y="773" width="3" height="17" fill="#ff0000"/>
<rect x="334" y="774" width="1" height="15" fill="#fff"/>
<rect x="338" y="542" width="1" height="9" fill="#008000"/>
<rect x="337" y="546" width="3" height="4" fill="#008000"/>
<rect x="337" y="774" width="3" height="16" fill="#008000"/>
<rect x="342" y="546" width="1" height="10" fill="#ff0000"/>
<rect x="341" y="549" width="3" height="1" fill="#ff0000"/>
<rect x="341" y="771" width="3" height="19" fill="#ff0000"/>
<rect x="342" y="772" width="1" height="17" fill="#fff"/>
<rect x="347" y="539" width="1" height="11" fill="#ff0000"/>
<rect x="346" y="540" width="3" height="9" fill="#ff0000"/>
<rect x="347" y="541" width="1" height="7" fill="#fff"/>
<rect x="346" y="772" width="3" height="18" fill="#ff0000"/>
<rect x="347" y="773" width="1" height="16" fill="#fff"/>
<rect x="351" y="539" width="1" height="11" fill="#008000"/>
<rect x="350" y="540" width="3" height="10" fill="#008000"/>
<rect x="350" y="777" width="3" height="13" fill="#008000"/>
<rect x="356" y="549" width="1" height="6" fill="#008000"/>
<rect x="355" y="551" width="3" height="1" fill="#008000"/>
<rect x="355" y="782" width="3" height="8" fill="#008000"/>
<rect x="360" y="543" width="1" height="10" fill="#ff0000"/>
<rect x="359" y="547" width="3" height="4" fill="#ff0000"/>
<rect x="360" y="548" width="1" height="2" fill="#fff"/>
<rect x="359" y="771" width="3" height="19" fill="#ff0000"/>
<rect x="360" y="772" width="1" height="17" fill="#fff"/>
<rect x="365" y="540" width="1" height="13" fill="#ff0000"/>
<rect x="364" y="548" width="3" height="1" fill="#ff0000"/>
<rect x="364" y="777" width="3" height="13" fill="#ff0000"/>
<rect x="365" y="778" width="1" height="11" fill="#fff"/>
<rect x="369" y="538" width="1" height="11" fill="#ff0000"/>
<rect x="368" y="539" width="3" height="9" fill="#ff0000"/>
<rect x="369" y="540" width="1" height="7" fill="#fff"/>
<rect x="368" y="752" width="3" height="38" fill="#ff0000"/>
<rect x="369" y="753" width="1" height="36" fill="#fff"/>
<rect x="374" y="529" width="1" height="12" fill="#008000"/>
<rect x="373" y="535" width="3" height="2" fill="#008000"/>
<rect x="373" y="744" width="3" height="46" fill="#008000"/>
<rect x="378" y="522" width="1" height="17" fill="#ff0000"/>
<rect x="377" y="525" width="3" height="13" fill="#ff0000"/>
<rect x="378" y="526" width="1" height="11" fill="#fff"/>
<rect x="377" y="761" width="3" height="29" fill="#ff0000"/>
<rect x="378" y="762" width="1" height="27" fill="#fff"/>
<rect x="383" y="503" width="1" height="24" fill="#ff0000"/>
<rect x="382" y="505" width="3" height="20" fill="#ff0000"/>
<rect x="383" y="506" width="1" height="18" fill="#fff"/>
<rect x="382" y="750" width="3" height="40" fill="#ff0000"/>
<rect x="383" y="751" width="1" height="38" fill="#fff"/>
<rect x="387" y="500" width="1" height="12" fill="#ff0000"/>
<rect x="386" y="500" width="3" height="7" fill="#ff0000"/>
<rect x="387" y="501" width="1" height="5" fill="#fff"/>
<rect x="386" y="756" width="3" height="34" fill="#ff0000"/>
<rect x="387" y="757" width="1" height="32" fill="#fff"/>
<rect x="391" y="501" width="1" height="13" fill="#008000"/>
<rect x="390" y="501" width="3" height="7" fill="#008000"/>
<rect x="390" y="773" width="3" height="17" fill="#008000"/>
<rect x="396" y="508" width="1" height="11" fill="#ff0000"/>
<rect x="395" y="511" width="3" height="1" fill="#ff0000"/>
<rect x="395" y="771" width="3" height="19" fill="#ff0000"/>
<rect x="396" y="772" width="1" height="17" fill="#fff"/>
<rect x="400" y="511" width="1" height="6" fill="#ff0000"/>
<rect x="399" y="513" width="3" height="1" fill="#ff0000"/>
<rect x="399" y="781" width="3" height="9" fill="#ff0000"/>
<rect x="400" y="782" width="1" height="7" fill="#fff"/>
<rect x="405" y="512" width="1" height="10" fill="#008000"/>
<rect x="404" y="512" width="3" height="5" fill="#008000"/>
<rect x="404" y="776" width="3" height="14" fill="#008000"/>
<rect x="409" y="517" width="1" height="10" fill="#008000"/>
<rect x="408" y="518" width="3" height="3" fill="#008000"/>
<rect x="408" y="778" width="3" height="12" fill="#008000"/>
<rect x="414" y="519" width="1" height="25" fill="#008000"/>
<rect x="413" y="523" width="3" height="4" fill="#008000"/>
<rect x="413" y="777" width="3" height="13" fill="#008000"/>
<rect x="418" y="523" width="1" height="7" fill="#ff0000"/>
<rect x="417" y="524" width="3" height="5" fill="#ff0000"/>
<rect x="418" y="525" width="1" height="3" fill="#fff"/>
<rect x="417" y="777" width="3" height="13" fill="#ff0000"/>
<rect x="418" y="778" width="1" height="11" fill="#fff"/>
<rect x="423" y="518" width="1" height="7" fill="#ff0000"/>
<rect x="422" y="519" width="3" height="3" fill="#ff0000"/>
<rect x="423" y="520" width="1" height="1" fill="#fff"/>
<rect x="422" y="771" width="3" height="19" fill="#ff0000"/>
<rect x="423" y="772" width="1" height="17" fill="#fff"/>
<rect x="427" y="517" width="1" height="10" fill="#008000"/>
<rect x="426" y="517" width="3" height="7" fill="#008000"/>
<rect x="426" y="775" width="3" height="15" fill="#008000"/>
<rect x="432" y="520" width="1" height="5" fill="#ff0000"/>
<rect x="431" y="521" width="3" height="3" fill="#ff0000"/>
<rect x="432" y="522" width="1" height="1" fill="#fff"/>
<rect x="431" y="778" width="3" height="12" fill="#ff0000"/>
<rect x="432" y="779" width="1" height="10" fill="#fff"/>
<rect x="436" y="519" width="1" height="12" fill="#008000"/>
<rect x="435" y="521" width="3" height="5" fill="#008000"/>
<rect x="435" y="777" width="3" height="13" fill="#008000"/>
<rect x="440" y="512" width="1" height="21" fill="#ff0000"/>
<rect x="439" y="513" width="3" height="14" fill="#ff0000"/>
<rect x="440" y="514" width="1" height="12" fill="#fff"/>
<rect x="439" y="761" width="3" height="29" fill="#ff0000"/>
<rect x="440" y="762" width="1" height="27" fill="#fff"/>
<rect x="445" y="504" width="1" height="9" fill="#ff0000"/>
<rect x="444" y="504" width="3" height="8" fill="#ff0000"/>
<rect x="445" y="505" width="1" height="6" fill="#fff"/>
<rect x="444" y="764" width="3" height="26" fill="#ff0000"/>
<rect x="445" y="765" width="1" height="24" fill="#fff"/>
<rect x="449" y="495" width="1" height="17" fill="#ff0000"/>
<rect x="448" y="503" width="3" height="2" fill="#ff0000"/>
<rect x="448" y="767" width="3" height="23" fill="#ff0000"/>
<rect x="449" y="768" width="1" height="21" fill="#fff"/>
<rect x="454" y="497" width="1" height="10" fill="#ff0000"/>
<rect x="453" y="498" width="3" height="5" fill="#ff0000"/>
<rect x="454" y="499" width="1" height="3" fill="#fff"/>
<rect x="453" y="762" width="3" height="28" fill="#ff0000"/>
<rect x="454" y="763" width="1" height="26" fill="#fff"/>
<rect x="458" y="490" width="1" height="11" fill="#ff0000"/>
<rect x="457" y="495" width="3" height="4" fill="#ff0000"/>
<rect x="458" y="496" width="1" height="2" fill="#fff"/>
<rect x="457" y="758" width="3" height="32" fill="#ff0000"/>
<rect x="458" y="759" width="1" height="30" fill="#fff"/>
<rect x="463" y="496" width="1" height="12" fill="#008000"/>
<rect x="462" y="498" width="3" height="1" fill="#008000"/>
<rect x="462" y="766" width="3" height="24" fill="#008000"/>
<rect x="467" y="500" width="1" height="10" fill="#008000"/>
<rect x="466" y="500" width="3" height="4" fill="#008000"/>
<rect x="466" y="777" width="3" height="13" fill="#008000"/>
<rect x="472" y="505" width="1" height="12" fill="#008000"/>
<rect x="471" y="505" width="3" height="5" fill="#008000"/>
<rect x="471" y="774" width="3" height="16" fill="#008000"/>
<rect x="476" y="496" width="1" height="17" fill="#ff0000"/>
<rect x="475" y="501" width="3" height="11" fill="#ff0000"/>
<rect x="476" y="502" width="1" height="9" fill="#fff"/>
<rect x="475" y="749" width="3" height="41" fill="#ff0000"/>
<rect x="476" y="750" width="1" height="39" fill="#fff"/>
<rect x="480" y="497" width="1" height="9" fill="#008000"/>
<rect x="479" y="501" width="3" height="1" fill="#008000"/>
<rect x="479" y="755" width="3" height="35" fill="#008000"/>
<rect x="485" y="500" width="1" height="9" fill="#008000"/>
<rect x="484" y="502" width="3" height="1" fill="#008000"/>
<rect x="484" y="769" width="3" height="21" fill="#008000"/>
<rect x="489" y="496" width="1" height="11" fill="#ff0000"/>
<rect x="488" y="496" width="3" height="9" fill="#ff0000"/>
<rect x="489" y="497" width="1" height="7" fill="#fff"/>
<rect x="488" y="775" width="3" height="15" fill="#ff0000"/>
<rect x="489" y="776" width="1" height="13" fill="#fff"/>
<rect x="494" y="493" width="1" height="12" fill="#ff0000"/>
<rect x="493" y="497" width="3" height="1" fill="#ff0000"/>
<rect x="493" y="772" width="3" height="18" fill="#ff0000"/>
<rect x="494" y="773" width="1" height="16" fill="#fff"/>
<rect x="498" y="497" width="1" height="8" fill="#008000"/>
<rect x="497" y="498" width="3" height="1" fill="#008000"/>
<rect x="497" y="776" width="3" height="14" fill="#008000"/>
<rect x="503" y="499" width="1" height="10" fill="#ff0000"/>
<rect x="502" y="499" width="3" height="9" fill="#ff0000"/>
<rect x="503" y="500" width="1" height="7" fill="#fff"/>
<rect x="502" y="765" width="3" height="25" fill="#ff0000"/>
<rect x="503" y="766" width="1" height="23" fill="#fff"/>
<rect x="507" y="495" width="1" height="21" fill="#ff0000"/>
<rect x="506" y="496" width="3" height="2" fill="#ff0000"/>
<rect x="506" y="723" width="3" height="67" fill="#ff0000"/>
<rect x="507" y="724" width="1" height="65" fill="#fff"/>
<rect x="512" y="504" width="1" height="3" fill="#008000"/>
<rect x="511" y="504" width="3" height="2" fill="#008000"/>
<rect x="511" y="748" width="3" height="42" fill="#008000"/>
<rect x="516" y="501" width="1" height="10" fill="#008000"/>
<rect x="515" y="501" width="3" height="4" fill="#008000"/>
<rect x="515" y="764" width="3" height="26" fill="#008000"/>
<rect x="521" y="505" width="1" height="5" fill="#008000"/>
<rect x="520" y="505" width="3" height="1" fill="#008000"/>
<rect x="520" y="769" width="3" height="21" fill="#008000"/>
<rect x="525" y="505" width="1" height="12" fill="#008000"/>
<rect x="524" y="505" width="3" height="12" fill="#008000"/>
<rect x="524" y="768" width="3" height="22" fill="#008000"/>
<rect x="529" y="513" width="1" height="7" fill="#008000"/>
<rect x="528" y="517" width="3" height="2" fill="#008000"/>
<rect x="528" y="780" width="3" height="10" fill="#008000"/>
<rect x="534" y="510" width="1" height="10" fill="#ff0000"/>
<rect x="533" y="514" width="3" height="6" fill="#ff0000"/>
<rect x="534" y="515" width="1" height="4" fill="#fff"/>
<rect x="533" y="778" width="3" height="12" fill="#ff0000"/>
<rect x="534" y="779" width="1" height="10" fill="#fff"/>
<rect x="538" y="513" width="1" height="12" fill="#008000"/>
<rect x="537" y="514" width="3" height="6" fill="#008000"/>
<rect x="537" y="782" width="3" height="8" fill="#008000"/>
<rect x="543" y="510" width="1" height="18" fill="#ff0000"/>
<rect x="542" y="514" width="3" height="6" fill="#ff0000"/>
<rect x="543" y="515" width="1" height="4" fill="#fff"/>
<rect x="542" y="778" width="3" height="12" fill="#ff0000"/>
<rect x="543" y="779" width="1" height="10" fill="#fff"/>
<rect x="547" y="508" width="1" height="9" fill="#ff0000"/>
<rect x="546" y="512" width="3" height="2" fill="#ff0000"/>
<rect x="546" y="774" width="3" height="16" fill="#ff0000"/>
<rect x="547" y="775" width="1" height="14" fill="#fff"/>
<rect x="552" y="509" width="1" height="12" fill="#008000"/>
<rect x="551" y="509" width="3" height="11" fill="#008000"/>
<rect x="551" y="765" width="3" height="25" fill="#008000"/>
<rect x="556" y="517" width="1" height="13" fill="#008000"/>
<rect x="555" y="517" width="3" height="13" fill="#008000"/>
<rect x="555" y="780" width="3" height="10" fill="#008000"/>
<rect x="561" y="528" width="1" height="16" fill="#008000"/>
<rect x="560" y="531" width="3" height="1" fill="#008000"/>
<rect x="560" y="780" width="3" height="10" fill="#008000"/>
<rect x="565" y="527" width="1" height="7" fill="#ff0000"/>
<rect x="564" y="528" width="3" height="4" fill="#ff0000"/>
<rect x="565" y="529" width="1" height="2" fill="#fff"/>
<rect x="564" y="780" width="3" height="10" fill="#ff0000"/>
<rect x="565" y="781" width="1" height="8" fill="#fff"/>
<rect x="570" y="516" width="1" height="11" fill="#ff0000"/>
<rect x="569" y="516" width="3" height="10" fill="#ff0000"/>
<rect x="570" y="517" width="1" height="8" fill="#fff"/>
<rect x="569" y="772" width="3" height="18" fill="#ff0000"/>
<rect x="570" y="773" width="1" height="16" fill="#fff"/>
<rect x="574" y="515" width="1" height="7" fill="#008000"/>
<rect x="573" y="515" width="3" height="5" fill="#008000"/>
<rect x="573" y="780" width="3" height="10" fill="#008000"/>
<rect x="578" y="518" width="1" height="12" fill="#008000"/>
<rect x="577" y="521" width="3" height="6" fill="#008000"/>
<rect x="577" y="783" width="3" height="7" fill="#008000"/>
<rect x="583" y="524" width="1" height="6" fill="#ff0000"/>
<rect x="582" y="525" width="3" height="5" fill="#ff0000"/>
<rect x="583" y="526" width="1" height="3" fill="#fff"/>
<rect x="582" y="783" width="3" height="7" fill="#ff0000"/>
<rect x="583" y="784" width="1" height="5" fill="#fff"/>
<rect x="587" y="506" width="1" height="24" fill="#ff0000"/>
<rect x="586" y="508" width="3" height="22" fill="#ff0000"/>
<rect x="587" y="509" width="1" height="20" fill="#fff"/>
<rect x="586" y="766" width="3" height="24" fill="#ff0000"/>
<rect x="587" y="767" width="1" height="22" fill="#fff"/>
<rect x="592" y="506" width="1" height="10" fill="#008000"/>
<rect x="591" y="512" width="3" height="3" fill="#008000"/>
<rect x="591" y="776" width="3" height="14" fill="#008000"/>
<rect x="596" y="511" width="1" height="30" fill="#008000"/>
<rect x="595" y="517" width="3" height="15" fill="#008000"/>
<rect x="595" y="757" width="3" height="33" fill="#008000"/>
<rect x="601" y="532" width="1" height="11" fill="#ff0000"/>
<rect x="600" y="532" width="3" height="1" fill="#ff0000"/>
<rect x="600" y="778" width="3" height="12" fill="#ff0000"/>
<rect x="601" y="779" width="1" height="10" fill="#fff"/>
<rect x="605" y="531" width="1" height="25" fill="#008000"/>
<rect x="604" y="531" width="3" height="17" fill="#008000"/>
<rect x="604" y="768" width="3" height="22" fill="#008000"/>
<rect x="610" y="550" width="1" height="20" fill="#008000"/>
<rect x="609" y="551" width="3" height="13" fill="#008000"/>
<rect x="609" y="763" width="3" height="27" fill="#008000"/>
<rect x="614" y="558" width="1" height="13" fill="#ff0000"/>
<rect x="613" y="564" width="3" height="3" fill="#ff0000"/>
<rect x="614" y="565" width="1" height="1" fill="#fff"/>
<rect x="613" y="770" width="3" height="20" fill="#ff0000"/>
<rect x="614" y="771" width="1" height="18" fill="#fff"/>
<rect x="618" y="558" width="1" height="7" fill="#ff0000"/>
<rect x="617" y="558" width="3" height="7" fill="#ff0000"/>
<rect x="618" y="559" width="1" height="5" fill="#fff"/>
<rect x="617" y="778" width="3" height="12" fill="#ff0000"/>
<rect x="618" y="779" width="1" height="10" fill="#fff"/>
<rect x="623" y="559" width="1" height="5" fill="#008000"/>
<rect x="622" y="559" width="3" height="1" fill="#008000"/>
<rect x="622" y="783" width="3" height="7" fill="#008000"/>
<rect x="627" y="555" width="1" height="5" fill="#ff0000"/>
<rect x="626" y="555" width="3" height="4" fill="#ff0000"/>
<rect x="627" y="556" width="1" height="2" fill="#fff"/>
<rect x="626" y="779" width="3" height="11" fill="#ff0000"/>
<rect x="627" y="780" width="1" height="9" fill="#fff"/>
<rect x="632" y="548" width="1" height="6" fill="#ff0000"/>
<rect x="631" y="552" width="3" height="1" fill="#ff0000"/>
<rect x="631" y="774" width="3" height="16" fill="#ff0000"/>
<rect x="632" y="775" width="1" height="14" fill="#fff"/>
<rect x="636" y="552" width="1" height="14" fill="#008000"/>
<rect x="635" y="554" width="3" height="4" fill="#008000"/>
<rect x="635" y="779" width="3" height="11" fill="#008000"/>
<rect x="641" y="553" width="1" height="9" fill="#ff0000"/>
<rect x="640" y="555" width="3" height="6" fill="#ff0000"/>
<rect x="641" y="556" width="1" height="4" fill="#fff"/>
<rect x="640" y="780" width="3" height="10" fill="#ff0000"/>
<rect x="641" y="781" width="1" height="8" fill="#fff"/>
<rect x="645" y="549" width="1" height="5" fill="#ff0000"/>
<rect x="644" y="550" width="3" height="4" fill="#ff0000"/>
<rect x="645" y="551" width="1" height="2" fill="#fff"/>
<rect x="644" y="781" width="3" height="9" fill="#ff0000"/>
<rect x="645" y="782" width="1" height="7" fill="#fff"/>
<rect x="650" y="551" width="1" height="4" fill="#008000"/>
<rect x="649" y="551" width="3" height="1" fill="#008000"/>
<rect x="649" y="783" width="3" height="7" fill="#008000"/>
<rect x="654" y="547" width="1" height="8" fill="#ff0000"/>
<rect x="653" y="550" width="3" height="1" fill="#ff0000"/>
<rect x="653" y="782" width="3" height="8" fill="#ff0000"/>
<rect x="654" y="783" width="1" height="6" fill="#fff"/>
<rect x="659" y="549" width="1" height="4" fill="#ff0000"/>
<rect x="658" y="550" width="3" height="2" fill="#ff0000"/>
<rect x="658" y="782" width="3" height="8" fill="#ff0000"/>
<rect x="659" y="783" width="1" height="6" fill="#fff"/>
<rect x="663" y="549" width="1" height="17" fill="#008000"/>
<rect x="662" y="549" width="3" height="10" fill="#008000"/>
<rect x="662" y="776" width="3" height="14" fill="#008000"/>
<rect x="667" y="558" width="1" height="9" fill="#ff0000"/>
<rect x="666" y="560" width="3" height="1" fill="#ff0000"/>
<rect x="666" y="777" width="3" height="13" fill="#ff0000"/>
<rect x="667" y="778" width="1" height="11" fill="#fff"/>
<rect x="672" y="555" width="1" height="11" fill="#ff0000"/>
<rect x="671" y="558" width="3" height="4" fill="#ff0000"/>
<rect x="672" y="559" width="1" height="2" fill="#fff"/>
<rect x="671" y="771" width="3" height="19" fill="#ff0000"/>
<rect x="672" y="772" width="1" height="17" fill="#fff"/>
<rect x="676" y="558" width="1" height="19" fill="#008000"/>
<rect x="675" y="558" width="3" height="14" fill="#008000"/>
<rect x="675" y="764" width="3" height="26" fill="#008000"/>
<rect x="681" y="566" width="1" height="11" fill="#ff0000"/>
<rect x="680" y="568" width="3" height="7" fill="#ff0000"/>
<rect x="681" y="569" width="1" height="5" fill="#fff"/>
<rect x="680" y="778" width="3" height="12" fill="#ff0000"/>
<rect x="681" y="779" width="1" height="10" fill="#fff"/>
<rect x="685" y="563" width="1" height="6" fill="#ff0000"/>
<rect x="684" y="565" width="3" height="3" fill="#ff0000"/>
<rect x="685" y="566" width="1" height="1" fill="#fff"/>
<rect x="684" y="778" width="3" height="12" fill="#ff0000"/>
<rect x="685" y="779" width="1" height="10" fill="#fff"/>
<rect x="690" y="544" width="1" height="21" fill="#ff0000"/>
<rect x="689" y="547" width="3" height="17" fill="#ff0000"/>
<rect x="690" y="548" width="1" height="15" fill="#fff"/>
<rect x="689" y="762" width="3" height="28" fill="#ff0000"/>
<rect x="690" y="763" width="1" height="26" fill="#fff"/>
<rect x="694" y="539" width="1" height="11" fill="#ff0000"/>
<rect x="693" y="546" width="3" height="2" fill="#ff0000"/>
<rect x="693" y="771" width="3" height="19" fill="#ff0000"/>
<rect x="694" y="772" width="1" height="17" fill="#fff"/>
<rect x="699" y="540" width="1" height="8" fill="#ff0000"/>
<rect x="698" y="541" width="3" height="3" fill="#ff0000"/>
<rect x="699" y="542" width="1" height="1" fill="#fff"/>
<rect x="698" y="777" width="3" height="13" fill="#ff0000"/>
<rect x="699" y="778" width="1" height="11" fill="#fff"/>
<rect x="703" y="530" width="1" height="14" fill="#ff0000"/>
<rect x="702" y="532" width="3" height="10" fill="#ff0000"/>
<rect x="703" y="533" width="1" height="8" fill="#fff"/>
<rect x="702" y="766" width="3" height="24" fill="#ff0000"/>
<rect x="703" y="767" width="1" height="22" fill="#fff"/>
<rect x="707" y="531" width="1" height="8" fill="#008000"/>
<rect x="706" y="531" width="3" height="4" fill="#008000"/>
<rect x="706" y="782" width="3" height="8" fill="#008000"/>
<rect x="712" y="525" width="1" height="12" fill="#ff0000"/>
<rect x="711" y="525" width="3" height="10" fill="#ff0000"/>
<rect x="712" y="526" width="1" height="8" fill="#fff"/>
<rect x="711" y="775" width="3" height="15" fill="#ff0000"/>
<rect x="712" y="776" width="1" height="13" fill="#fff"/>
<rect x="716" y="524" width="1" height="6" fill="#ff0000"/>
<rect x="715" y="525" width="3" height="3" fill="#ff0000"/>
<rect x="716" y="526" width="1" height="1" fill="#fff"/>
<rect x="715" y="779" width="3" height="11" fill="#ff0000"/>
<rect x="716" y="780" width="1" height="9" fill="#fff"/>
<rect x="721" y="521" width="1" height="9" fill="#ff0000"/>
<rect x="720" y="522" width="3" height="6" fill="#ff0000"/>
<rect x="721" y="523" width="1" height="4" fill="#fff"/>
<rect x="720" y="777" width="3" height="13" fill="#ff0000"/>
<rect x="721" y="778" width="1" height="11" fill="#fff"/>
<rect x="725" y="519" width="1" height="19" fill="#008000"/>
<rect x="724" y="522" width="3" height="6" fill="#008000"/>
<rect x="724" y="766" width="3" height="24" fill="#008000"/>
<rect x="730" y="528" width="1" height="5" fill="#008000"/>
<rect x="729" y="529" width="3" height="1" fill="#008000"/>
<rect x="729" y="778" width="3" height="12" fill="#008000"/>
<rect x="734" y="513" width="1" height="12" fill="#ff0000"/>
<rect x="733" y="523" width="3" height="2" fill="#ff0000"/>
<rect x="733" y="771" width="3" height="19" fill="#ff0000"/>
<rect x="734" y="772" width="1" height="17" fill="#fff"/>
<rect x="739" y="508" width="1" height="15" fill="#ff0000"/>
<rect x="738" y="513" width="3" height="9" fill="#ff0000"/>
<rect x="739" y="514" width="1" height="7" fill="#fff"/>
<rect x="738" y="768" width="3" height="22" fill="#ff0000"/>
<rect x="739" y="769" width="1" height="20" fill="#fff"/>
<rect x="743" y="511" width="1" height="10" fill="#008000"/>
<rect x="742" y="513" width="3" height="5" fill="#008000"/>
<rect x="742" y="776" width="3" height="14" fill="#008000"/>
<rect x="748" y="509" width="1" height="12" fill="#ff0000"/>
<rect x="747" y="518" width="3" height="2" fill="#ff0000"/>
<rect x="747" y="781" width="3" height="9" fill="#ff0000"/>
<rect x="748" y="782" width="1" height="7" fill="#fff"/>
<rect x="752" y="509" width="1" height="11" fill="#ff0000"/>
<rect x="751" y="512" width="3" height="6" fill="#ff0000"/>
<rect x="752" y="513" width="1" height="4" fill="#fff"/>
<rect x="751" y="776" width="3" height="14" fill="#ff0000"/>
<rect x="752" y="777" width="1" height="12" fill="#fff"/>
<rect x="756" y="501" width="1" height="11" fill="#ff0000"/>
<rect x="755" y="505" width="3" height="6" fill="#ff0000"/>
<rect x="756" y="506" width="1" height="4" fill="#fff"/>
<rect x="755" y="774" width="3" height="16" fill="#ff0000"/>
<rect x="756" y="775" width="1" height="14" fill="#fff"/>
<rect x="761" y="504" width="1" height="20" fill="#008000"/>
<rect x="760" y="504" width="3" height="17" fill="#008000"/>
<rect x="760" y="766" width="3" height="24" fill="#008000"/>
<rect x="765" y="512" width="1" height="12" fill="#ff0000"/>
<rect x="764" y="514" width="3" height="8" fill="#ff0000"/>
<rect x="765" y="515" width="1" height="6" fill="#fff"/>
<rect x="764" y="771" width="3" height="19" fill="#ff0000"/>
<rect x="765" y="772" width="1" height="17" fill="#fff"/>
<rect x="770" y="508" width="1" height="11" fill="#ff0000"/>
<rect x="769" y="510" width="3" height="6" fill="#ff0000"/>
<rect x="770" y="511" width="1" height="4" fill="#fff"/>
<rect x="769" y="768" width="3" height="22" fill="#ff0000"/>
<rect x="770" y="769" width="1" height="20" fill="#fff"/>
<rect x="774" y="491" width="1" height="20" fill="#ff0000"/>
<rect x="773" y="502" width="3" height="8" fill="#ff0000"/>
<rect x="774" y="503" width="1" height="6" fill="#fff"/>
<rect x="773" y="753" width="3" height="37" fill="#ff0000"/>
<rect x="774" y="754" width="1" height="35" fill="#fff"/>
<rect x="779" y="499" width="1" height="9" fill="#008000"/>
<rect x="778" y="500" width="3" height="5" fill="#008000"/>
<rect x="778" y="769" width="3" height="21" fill="#008000"/>
<rect x="783" y="504" width="1" height="24" fill="#008000"/>
<rect x="782" y="504" width="3" height="17" fill="#008000"/>
<rect x="782" y="769" width="3" height="21" fill="#008000"/>
<rect x="788" y="521" width="1" height="8" fill="#008000"/>
<rect x="787" y="521" width="3" height="1" fill="#008000"/>
<rect x="787" y="781" width="3" height="9" fill="#008000"/>
<rect x="792" y="518" width="1" height="7" fill="#ff0000"/>
<rect x="791" y="521" width="3" height="3" fill="#ff0000"/>
<rect x="792" y="522" width="1" height="1" fill="#fff"/>
<rect x="791" y="781" width="3" height="9" fill="#ff0000"/>
<rect x="792" y="782" width="1" height="7" fill="#fff"/>
<rect x="797" y="519" width="1" height="13" fill="#008000"/>
<rect x="796" y="521" width="3" height="1" fill="#008000"/>
<rect x="796" y="777" width="3" height="13" fill="#008000"/>
<rect x="801" y="495" width="1" height="41" fill="#ff0000"/>
<rect x="800" y="501" width="3" height="24" fill="#ff0000"/>
<rect x="801" y="502" width="1" height="22" fill="#fff"/>
<rect x="800" y="751" width="3" height="39" fill="#ff0000"/>
<rect x="801" y="752" width="1" height="37" fill="#fff"/>
<rect x="805" y="492" width="1" height="13" fill="#ff0000"/>
<rect x="804" y="492" width="3" height="11" fill="#ff0000"/>
<rect x="805" y="493" width="1" height="9" fill="#fff"/>
<rect x="804" y="740" width="3" height="50" fill="#ff0000"/>
<rect x="805" y="741" width="1" height="48" fill="#fff"/>
<rect x="810" y="465" width="1" height="27" fill="#ff0000"/>
<rect x="809" y="480" width="3" height="11" fill="#ff0000"/>
<rect x="810" y="481" width="1" height="9" fill="#fff"/>
<rect x="809" y="710" width="3" height="80" fill="#ff0000"/>
<rect x="810" y="711" width="1" height="78" fill="#fff"/>
<rect x="814" y="469" width="1" height="18" fill="#ff0000"/>
<rect x="813" y="478" width="3" height="2" fill="#ff0000"/>
<rect x="813" y="734" width="3" height="56" fill="#ff0000"/>
<rect x="814" y="735" width="1" height="54" fill="#fff"/>
<rect x="819" y="478" width="1" height="12" fill="#008000"/>
<rect x="818" y="480" width="3" height="6" fill="#008000"/>
<rect x="818" y="757" width="3" height="33" fill="#008000"/>
<rect x="823" y="490" width="1" height="14" fill="#008000"/>
<rect x="822" y="492" width="3" height="7" fill="#008000"/>
<rect x="822" y="761" width="3" height="29" fill="#008000"/>
<rect x="828" y="496" width="1" height="20" fill="#ff0000"/>
<rect x="827" y="501" width="3" height="5" fill="#ff0000"/>
<rect x="828" y="502" width="1" height="3" fill="#fff"/>
<rect x="827" y="764" width="3" height="26" fill="#ff0000"/>
<rect x="828" y="765" width="1" height="24" fill="#fff"/>
<rect x="832" y="490" width="1" height="31" fill="#008000"/>
<rect x="831" y="499" width="3" height="16" fill="#008000"/>
<rect x="831" y="740" width="3" height="50" fill="#008000"/>
<rect x="837" y="506" width="1" height="38" fill="#ff0000"/>
<rect x="836" y="510" width="3" height="2" fill="#ff0000"/>
<rect x="836" y="744" width="3" height="46" fill="#ff0000"/>
<rect x="837" y="745" width="1" height="44" fill="#fff"/>
<rect x="841" y="481" width="1" height="32" fill="#ff0000"/>
<rect x="840" y="481" width="3" height="31" fill="#ff0000"/>
<rect x="841" y="482" width="1" height="29" fill="#fff"/>
<rect x="840" y="744" width="3" height="46" fill="#ff0000"/>
<rect x="841" y="745" width="1" height="44" fill="#fff"/>
<rect x="845" y="455" width="1" height="20" fill="#ff0000"/>
<rect x="844" y="463" width="3" height="8" fill="#ff0000"/>
<rect x="845" y="464" width="1" height="6" fill="#fff"/>
<rect x="844" y="690" width="3" height="100" fill="#ff0000"/>
<rect x="845" y="691" width="1" height="98" fill="#fff"/>
<rect x="850" y="450" width="1" height="22" fill="#ff0000"/>
<rect x="849" y="451" width="3" height="14" fill="#ff0000"/>
<rect x="850" y="452" width="1" height="12" fill="#fff"/>
<rect x="849" y="719" width="3" height="71" fill="#ff0000"/>
<rect x="850" y="720" width="1" height="69" fill="#fff"/>
<rect x="854" y="442" width="1" height="20" fill="#ff0000"/>
<rect x="853" y="445" width="3" height="14" fill="#ff0000"/>
<rect x="854" y="446" width="1" height="12" fill="#fff"/>
<rect x="853" y="742" width="3" height="48" fill="#ff0000"/>
<rect x="854" y="743" width="1" height="46" fill="#fff"/>
<rect x="859" y="442" width="1" height="12" fill="#008000"/>
<rect x="858" y="452" width="3" height="2" fill="#008000"/>
<rect x="858" y="756" width="3" height="34" fill="#008000"/>
<rect x="863" y="428" width="1" height="26" fill="#ff0000"/>
<rect x="862" y="435" width="3" height="19" fill="#ff0000"/>
<rect x="863" y="436" width="1" height="17" fill="#fff"/>
<rect x="862" y="742" width="3" height="48" fill="#ff0000"/>
<rect x="863" y="743" width="1" height="46" fill="#fff"/>
<rect x="868" y="438" width="1" height="11" fill="#008000"/>
<rect x="867" y="441" width="3" height="8" fill="#008000"/>
<rect x="867" y="759" width="3" height="31" fill="#008000"/>
<rect x="872" y="448" width="1" height="17" fill="#008000"/>
<rect x="871" y="450" width="3" height="12" fill="#008000"/>
<rect x="871" y="759" width="3" height="31" fill="#008000"/>
<rect x="877" y="443" width="1" height="39" fill="#ff0000"/>
<rect x="876" y="462" width="3" height="18" fill="#ff0000"/>
<rect x="877" y="463" width="1" height="16" fill="#fff"/>
<rect x="876" y="760" width="3" height="30" fill="#ff0000"/>
<rect x="877" y="761" width="1" height="28" fill="#fff"/>
<rect x="881" y="455" width="1" height="13" fill="#ff0000"/>
<rect x="880" y="458" width="3" height="4" fill="#ff0000"/>
<rect x="881" y="459" width="1" height="2" fill="#fff"/>
<rect x="880" y="774" width="3" height="16" fill="#ff0000"/>
<rect x="881" y="775" width="1" height="14" fill="#fff"/>
<rect x="886" y="449" width="1" height="11" fill="#008000"/>
<rect x="885" y="456" width="3" height="1" fill="#008000"/>
<rect x="885" y="770" width="3" height="20" fill="#008000"/>
<rect x="890" y="448" width="1" height="22" fill="#ff0000"/>
<rect x="889" y="449" width="3" height="6" fill="#ff0000"/>
<rect x="890" y="450" width="1" height="4" fill="#fff"/>
<rect x="889" y="758" width="3" height="32" fill="#ff0000"/>
<rect x="890" y="759" width="1" height="30" fill="#fff"/>
<rect x="894" y="435" width="1" height="23" fill="#008000"/>
<rect x="893" y="452" width="3" height="6" fill="#008000"/>
<rect x="893" y="755" width="3" height="35" fill="#008000"/>
<rect x="899" y="423" width="1" height="33" fill="#ff0000"/>
<rect x="898" y="424" width="3" height="29" fill="#ff0000"/>
<rect x="899" y="425" width="1" height="27" fill="#fff"/>
<rect x="898" y="743" width="3" height="47" fill="#ff0000"/>
<rect x="899" y="744" width="1" height="45" fill="#fff"/>
<rect x="903" y="393" width="1" height="23" fill="#ff0000"/>
<rect x="902" y="393" width="3" height="16" fill="#ff0000"/>
<rect x="903" y="394" width="1" height="14" fill="#fff"/>
<rect x="902" y="742" width="3" height="48" fill="#ff0000"/>
<rect x="903" y="743" width="1" height="46" fill="#fff"/>
<rect x="908" y="392" width="1" height="17" fill="#008000"/>
<rect x="907" y="400" width="3" height="1" fill="#008000"/>
<rect x="907" y="767" width="3" height="23" fill="#008000"/>
<rect x="912" y="373" width="1" height="31" fill="#ff0000"/>
<rect x="911" y="387" width="3" height="16" fill="#ff0000"/>
<rect x="912" y="388" width="1" height="14" fill="#fff"/>
<rect x="911" y="756" width="3" height="34" fill="#ff0000"/>
<rect x="912" y="757" width="1" height="32" fill="#fff"/>
<rect x="917" y="375" width="1" height="20" fill="#ff0000"/>
<rect x="916" y="390" width="3" height="1" fill="#ff0000"/>
<rect x="916" y="764" width="3" height="26" fill="#ff0000"/>
<rect x="917" y="765" width="1" height="24" fill="#fff"/>
<rect x="921" y="373" width="1" height="29" fill="#ff0000"/>
<rect x="920" y="378" width="3" height="17" fill="#ff0000"/>
<rect x="921" y="379" width="1" height="15" fill="#fff"/>
<rect x="920" y="762" width="3" height="28" fill="#ff0000"/>
<rect x="921" y="763" width="1" height="26" fill="#fff"/>
<rect x="926" y="357" width="1" height="27" fill="#008000"/>
<rect x="925" y="367" width="3" height="10" fill="#008000"/>
<rect x="925" y="753" width="3" height="37" fill="#008000"/>
<rect x="930" y="364" width="1" height="14" fill="#ff0000"/>
<rect x="929" y="367" width="3" height="6" fill="#ff0000"/>
<rect x="930" y="368" width="1" height="4" fill="#fff"/>
<rect x="929" y="761" width="3" height="29" fill="#ff0000"/>
<rect x="930" y="762" width="1" height="27" fill="#fff"/>
<rect x="935" y="365" width="1" height="33" fill="#008000"/>
<rect x="934" y="367" width="3" height="24" fill="#008000"/>
<rect x="934" y="761" width="3" height="29" fill="#008000"/>
<rect x="939" y="393" width="1" height="21" fill="#008000"/>
<rect x="938" y="393" width="3" height="7" fill="#008000"/>
<rect x="938" y="766" width="3" height="24" fill="#008000"/>
<rect x="943" y="370" width="1" height="32" fill="#ff0000"/>
<rect x="942" y="390" width="3" height="5" fill="#ff0000"/>
<rect x="943" y="391" width="1" height="3" fill="#fff"/>
<rect x="942" y="770" width="3" height="20" fill="#ff0000"/>
<rect x="943" y="771" width="1" height="18" fill="#fff"/>
<rect x="948" y="387" width="1" height="30" fill="#008000"/>
<rect x="947" y="392" width="3" height="24" fill="#008000"/>
<rect x="947" y="760" width="3" height="30" fill="#008000"/>
<rect x="952" y="406" width="1" height="11" fill="#008000"/>
<rect x="951" y="414" width="3" height="1" fill="#008000"/>
<rect x="951" y="775" width="3" height="15" fill="#008000"/>
<rect x="957" y="382" width="1" height="38" fill="#ff0000"/>
<rect x="956" y="384" width="3" height="31" fill="#ff0000"/>
<rect x="957" y="385" width="1" height="29" fill="#fff"/>
<rect x="956" y="766" width="3" height="24" fill="#ff0000"/>
<rect x="957" y="767" width="1" height="22" fill="#fff"/>
<rect x="961" y="359" width="1" height="29" fill="#ff0000"/>
<rect x="960" y="368" width="3" height="19" fill="#ff0000"/>
<rect x="961" y="369" width="1" height="17" fill="#fff"/>
<rect x="960" y="759" width="3" height="31" fill="#ff0000"/>
<rect x="961" y="760" width="1" height="29" fill="#fff"/>
<rect x="966" y="360" width="1" height="12" fill="#ff0000"/>
<rect x="965" y="363" width="3" height="5" fill="#ff0000"/>
<rect x="966" y="364" width="1" height="3" fill="#fff"/>
<rect x="965" y="775" width="3" height="15" fill="#ff0000"/>
<rect x="966" y="776" width="1" height="13" fill="#fff"/>
<rect x="970" y="348" width="1" height="20" fill="#ff0000"/>
<rect x="969" y="361" width="3" height="5" fill="#ff0000"/>
<rect x="970" y="362" width="1" height="3" fill="#fff"/>
<rect x="969" y="765" width="3" height="25" fill="#ff0000"/>
<rect x="970" y="766" width="1" height="23" fill="#fff"/>
<rect x="975" y="360" width="1" height="27" fill="#008000"/>
<rect x="974" y="361" width="3" height="20" fill="#008000"/>
<rect x="974" y="767" width="3" height="23" fill="#008000"/>
<rect x="979" y="375" width="1" height="19" fill="#008000"/>
<rect x="978" y="387" width="3" height="3" fill="#008000"/>
<rect x="978" y="776" width="3" height="14" fill="#008000"/>
<rect x="983" y="369" width="1" height="29" fill="#ff0000"/>
<rect x="982" y="377" width="3" height="8" fill="#ff0000"/>
<rect x="983" y="378" width="1" height="6" fill="#fff"/>
<rect x="982" y="763" width="3" height="27" fill="#ff0000"/>
<rect x="983" y="764" width="1" height="25" fill="#fff"/>
<rect x="988" y="373" width="1" height="28" fill="#008000"/>
<rect x="987" y="373" width="3" height="24" fill="#008000"/>
<rect x="987" y="754" width="3" height="36" fill="#008000"/>
<rect x="992" y="394" width="1" height="10" fill="#008000"/>
<rect x="991" y="396" width="3" height="5" fill="#008000"/>
<rect x="991" y="770" width="3" height="20" fill="#008000"/>
<rect x="997" y="361" width="1" height="41" fill="#ff0000"/>
<rect x="996" y="366" width="3" height="35" fill="#ff0000"/>
<rect x="997" y="367" width="1" height="33" fill="#fff"/>
<rect x="996" y="748" width="3" height="42" fill="#ff0000"/>
<rect x="997" y="749" width="1" height="40" fill="#fff"/>
<rect x="1001" y="348" width="1" height="24" fill="#ff0000"/>
<rect x="1000" y="366" width="3" height="3" fill="#ff0000"/>
<rect x="1001" y="367" width="1" height="1" fill="#fff"/>
<rect x="1000" y="759" width="3" height="31" fill="#ff0000"/>
<rect x="1001" y="760" width="1" height="29" fill="#fff"/>
<rect x="1006" y="328" width="1" height="53" fill="#ff0000"/>
<rect x="1005" y="348" width="3" height="22" fill="#ff0000"/>
<rect x="1006" y="349" width="1" height="20" fill="#fff"/>
<rect x="1005" y="748" width="3" height="42" fill="#ff0000"/>
<rect x="1006" y="749" width="1" height="40" fill="#fff"/>
<rect x="1010" y="314" width="1" height="36" fill="#ff0000"/>
<rect x="1009" y="320" width="3" height="21" fill="#ff0000"/>
<rect x="1010" y="321" width="1" height="19" fill="#fff"/>
<rect x="1009" y="743" width="3" height="47" fill="#ff0000"/>
<rect x="1010" y="744" width="1" height="45" fill="#fff"/>
<rect x="1015" y="325" width="1" height="7" fill="#008000"/>
<rect x="1014" y="328" width="3" height="1" fill="#008000"/>
<rect x="1014" y="748" width="3" height="42" fill="#008000"/>
<rect x="1019" y="333" width="1" height="18" fill="#008000"/>
<rect x="1018" y="334" width="3" height="12" fill="#008000"/>
<rect x="1018" y="760" width="3" height="30" fill="#008000"/>
<rect x="1024" y="343" width="1" height="7" fill="#ff0000"/>
<rect x="1023" y="344" width="3" height="4" fill="#ff0000"/>
<rect x="1024" y="345" width="1" height="2" fill="#fff"/>
<rect x="1023" y="771" width="3" height="19" fill="#ff0000"/>
<rect x="1024" y="772" width="1" height="17" fill="#fff"/>
<rect x="1028" y="325" width="1" height="16" fill="#ff0000"/>
<rect x="1027" y="329" width="3" height="2" fill="#ff0000"/>
<rect x="1027" y="750" width="3" height="40" fill="#ff0000"/>
<rect x="1028" y="751" width="1" height="38" fill="#fff"/>
<rect x="1032" y="298" width="1" height="31" fill="#ff0000"/>
<rect x="1031" y="327" width="3" height="1" fill="#ff0000"/>
<rect x="1031" y="758" width="3" height="32" fill="#ff0000"/>
<rect x="1032" y="759" width="1" height="30" fill="#fff"/>
<rect x="1037" y="314" width="1" height="29" fill="#ff0000"/>
<rect x="1036" y="320" width="3" height="14" fill="#ff0000"/>
<rect x="1037" y="321" width="1" height="12" fill="#fff"/>
<rect x="1036" y="751" width="3" height="39" fill="#ff0000"/>
<rect x="1037" y="752" width="1" height="37" fill="#fff"/>
<rect x="1041" y="310" width="1" height="21" fill="#ff0000"/>
<rect x="1040" y="315" width="3" height="14" fill="#ff0000"/>
<rect x="1041" y="316" width="1" height="12" fill="#fff"/>
<rect x="1040" y="755" width="3" height="35" fill="#ff0000"/>
<rect x="1041" y="756" width="1" height="33" fill="#fff"/>
<rect x="1046" y="316" width="1" height="16" fill="#008000"/>
<rect x="1045" y="317" width="3" height="13" fill="#008000"/>
<rect x="1045" y="769" width="3" height="21" fill="#008000"/>
<rect x="1050" y="331" width="1" height="31" fill="#008000"/>
<rect x="1049" y="331" width="3" height="19" fill="#008000"/>
<rect x="1049" y="758" width="3" height="32" fill="#008000"/>
<rect x="1055" y="336" width="1" height="21" fill="#ff0000"/>
<rect x="1054" y="348" width="3" height="7" fill="#ff0000"/>
<rect x="1055" y="349" width="1" height="5" fill="#fff"/>
<rect x="1054" y="777" width="3" height="13" fill="#ff0000"/>
<rect x="1055" y="778" width="1" height="11" fill="#fff"/>
<rect x="1059" y="339" width="1" height="12" fill="#ff0000"/>
<rect x="1058" y="341" width="3" height="8" fill="#ff0000"/>
<rect x="1059" y="342" width="1" height="6" fill="#fff"/>
<rect x="1058" y="777" width="3" height="13" fill="#ff0000"/>
<rect x="1059" y="778" width="1" height="11" fill="#fff"/>
<rect x="1064" y="336" width="1" height="10" fill="#008000"/>
<rect x="1063" y="342" width="3" height="3" fill="#008000"/>
<rect x="1063" y="777" width="3" height="13" fill="#008000"/>
<rect x="1068" y="325" width="1" height="33" fill="#ff0000"/>
<rect x="1067" y="326" width="3" height="21" fill="#ff0000"/>
<rect x="1068" y="327" width="1" height="19" fill="#fff"/>
<rect x="1067" y="769" width="3" height="21" fill="#ff0000"/>
<rect x="1068" y="770" width="1" height="19" fill="#fff"/>
<rect x="1072" y="316" width="1" height="22" fill="#ff0000"/>
<rect x="1071" y="323" width="3" height="6" fill="#ff0000"/>
<rect x="1072" y="324" width="1" height="4" fill="#fff"/>
<rect x="1071" y="772" width="3" height="18" fill="#ff0000"/>
<rect x="1072" y="773" width="1" height="16" fill="#fff"/>
<rect x="1077" y="327" width="1" height="28" fill="#008000"/>
<rect x="1076" y="332" width="3" height="13" fill="#008000"/>
<rect x="1076" y="757" width="3" height="33" fill="#008000"/>
<rect x="1081" y="346" width="1" height="24" fill="#008000"/>
<rect x="1080" y="346" width="3" height="20" fill="#008000"/>
<rect x="1080" y="762" width="3" height="28" fill="#008000"/>
<rect x="1086" y="365" width="1" height="29" fill="#008000"/>
<rect x="1085" y="366" width="3" height="13" fill="#008000"/>
<rect x="1085" y="762" width="3" height="28" fill="#008000"/>
<rect x="1090" y="372" width="1" height="19" fill="#008000"/>
<rect x="1089" y="382" width="3" height="5" fill="#008000"/>
<rect x="1089" y="771" width="3" height="19" fill="#008000"/>
<rect x="1095" y="365" width="1" height="29" fill="#ff0000"/>
<rect x="1094" y="370" width="3" height="17" fill="#ff0000"/>
<rect x="1095" y="371" width="1" height="15" fill="#fff"/>
<rect x="1094" y="767" width="3" height="23" fill="#ff0000"/>
<rect x="1095" y="768" width="1" height="21" fill="#fff"/>
<rect x="1099" y="361" width="1" height="17" fill="#ff0000"/>
<rect x="1098" y="369" width="3" height="3" fill="#ff0000"/>
<rect x="1099" y="370" width="1" height="1" fill="#fff"/>
<rect x="1098" y="769" width="3" height="21" fill="#ff0000"/>
<rect x="1099" y="770" width="1" height="19" fill="#fff"/>
<rect x="1104" y="362" width="1" height="14" fill="#ff0000"/>
<rect x="1103" y="368" width="3" height="1" fill="#ff0000"/>
<rect x="1103" y="773" width="3" height="17" fill="#ff0000"/>
<rect x="1104" y="774" width="1" height="15" fill="#fff"/>
<rect x="1108" y="364" width="1" height="12" fill="#008000"/>
<rect x="1107" y="369" width="3" height="5" fill="#008000"/>
<rect x="1107" y="779" width="3" height="11" fill="#008000"/>
<rect x="1113" y="331" width="1" height="31" fill="#ff0000"/>
<rect x="1112" y="331" width="3" height="31" fill="#ff0000"/>
<rect x="1113" y="332" width="1" height="29" fill="#fff"/>
<rect x="1112" y="744" width="3" height="46" fill="#ff0000"/>
<rect x="1113" y="745" width="1" height="44" fill="#fff"/>
<rect x="1117" y="299" width="1" height="31" fill="#ff0000"/>
<rect x="1116" y="299" width="3" height="23" fill="#ff0000"/>
<rect x="1117" y="300" width="1" height="21" fill="#fff"/>
<rect x="1116" y="741" width="3" height="49" fill="#ff0000"/>
<rect x="1117" y="742" width="1" height="47" fill="#fff"/>
<rect x="1121" y="301" width="1" height="12" fill="#008000"/>
<rect x="1120" y="301" width="3" height="8" fill="#008000"/>
<rect x="1120" y="765" width="3" height="25" fill="#008000"/>
<rect x="1126" y="312" width="1" height="20" fill="#008000"/>
<rect x="1125" y="312" width="3" height="17" fill="#008000"/>
<rect x="1125" y="768" width="3" height="22" fill="#008000"/>
<rect x="1130" y="320" width="1" height="12" fill="#ff0000"/>
<rect x="1129" y="328" width="3" height="1" fill="#ff0000"/>
<rect x="1129" y="778" width="3" height="12" fill="#ff0000"/>
<rect x="1130" y="779" width="1" height="10" fill="#fff"/>
<rect x="1135" y="298" width="1" height="28" fill="#ff0000"/>
<rect x="1134" y="312" width="3" height="14" fill="#ff0000"/>
<rect x="1135" y="313" width="1" height="12" fill="#fff"/>
<rect x="1134" y="767" width="3" height="23" fill="#ff0000"/>
<rect x="1135" y="768" width="1" height="21" fill="#fff"/>
<rect x="1139" y="268" width="1" height="45" fill="#ff0000"/>
<rect x="1138" y="289" width="3" height="19" fill="#ff0000"/>
<rect x="1139" y="290" width="1" height="17" fill="#fff"/>
<rect x="1138" y="761" width="3" height="29" fill="#ff0000"/>
<rect x="1139" y="762" width="1" height="27" fill="#fff"/>
<rect x="1144" y="276" width="1" height="19" fill="#ff0000"/>
<rect x="1143" y="282" width="3" height="7" fill="#ff0000"/>
<rect x="1144" y="283" width="1" height="5" fill="#fff"/>
<rect x="1143" y="774" width="3" height="16" fill="#ff0000"/>
<rect x="1144" y="775" width="1" height="14" fill="#fff"/>
<rect x="1148" y="282" width="1" height="28" fill="#008000"/>
<rect x="1147" y="282" width="3" height="24" fill="#008000"/>
<rect x="1147" y="771" width="3" height="19" fill="#008000"/>
<rect x="1153" y="294" width="1" height="24" fill="#008000"/>
<rect x="1152" y="306" width="3" height="8" fill="#008000"/>
<rect x="1152" y="775" width="3" height="15" fill="#008000"/>
<rect x="1157" y="283" width="1" height="39" fill="#ff0000"/>
<rect x="1156" y="283" width="3" height="29" fill="#ff0000"/>
<rect x="1157" y="284" width="1" height="27" fill="#fff"/>
<rect x="1156" y="766" width="3" height="24" fill="#ff0000"/>
<rect x="1157" y="767" width="1" height="22" fill="#fff"/>
<rect x="1162" y="276" width="1" height="21" fill="#008000"/>
<rect x="1161" y="284" width="3" height="10" fill="#008000"/>
<rect x="1161" y="776" width="3" height="14" fill="#008000"/>
<rect x="1166" y="298" width="1" height="31" fill="#008000"/>
<rect x="1165" y="299" width="3" height="29" fill="#008000"/>
<rect x="1165" y="768" width="3" height="22" fill="#008000"/>
<rect x="1170" y="312" width="1" height="20" fill="#008000"/>
<rect x="1169" y="327" width="3" height="1" fill="#008000"/>
<rect x="1169" y="776" width="3" height="14" fill="#008000"/>
<rect x="1175" y="296" width="1" height="33" fill="#ff0000"/>
<rect x="1174" y="297" width="3" height="31" fill="#ff0000"/>
<rect x="1175" y="298" width="1" height="29" fill="#fff"/>
<rect x="1174" y="770" width="3" height="20" fill="#ff0000"/>
<rect x="1175" y="771" width="1" height="18" fill="#fff"/>
<rect x="1179" y="253" width="1" height="40" fill="#ff0000"/>
<rect x="1178" y="270" width="3" height="22" fill="#ff0000"/>
<rect x="1179" y="271" width="1" height="20" fill="#fff"/>
<rect x="1178" y="754" width="3" height="36" fill="#ff0000"/>
<rect x="1179" y="755" width="1" height="34" fill="#fff"/>
<rect x="1184" y="260" width="1" height="18" fill="#ff0000"/>
<rect x="1183" y="266" width="3" height="6" fill="#ff0000"/>
<rect x="1184" y="267" width="1" height="4" fill="#fff"/>
<rect x="1183" y="766" width="3" height="24" fill="#ff0000"/>
<rect x="1184" y="767" width="1" height="22" fill="#fff"/>
<rect x="1188" y="271" width="1" height="48" fill="#008000"/>
<rect x="1187" y="271" width="3" height="18" fill="#008000"/>
<rect x="1187" y="762" width="3" height="28" fill="#008000"/>
<rect x="1193" y="289" width="1" height="16" fill="#ff0000"/>
<rect x="1192" y="293" width="3" height="1" fill="#ff0000"/>
<rect x="1192" y="782" width="3" height="8" fill="#ff0000"/>
<rect x="1193" y="783" width="1" height="6" fill="#fff"/>
<rect x="1197" y="284" width="1" height="55" fill="#008000"/>
<rect x="1196" y="294" width="3" height="34" fill="#008000"/>
<rect x="1196" y="771" width="3" height="19" fill="#008000"/>
<rect x="1202" y="322" width="1" height="46" fill="#008000"/>
<rect x="1201" y="328" width="3" height="36" fill="#008000"/>
<rect x="1201" y="759" width="3" height="31" fill="#008000"/>
<rect x="1206" y="360" width="1" height="33" fill="#ff0000"/>
<rect x="1205" y="361" width="3" height="5" fill="#ff0000"/>
<rect x="1206" y="362" width="1" height="3" fill="#fff"/>
<rect x="1205" y="764" width="3" height="26" fill="#ff0000"/>
<rect x="1206" y="765" width="1" height="24" fill="#fff"/>
<rect x="1210" y="348" width="1" height="24" fill="#ff0000"/>
<rect x="1209" y="351" width="3" height="16" fill="#ff0000"/>
<rect x="1210" y="352" width="1" height="14" fill="#fff"/>
<rect x="1209" y="766" width="3" height="24" fill="#ff0000"/>
<rect x="1210" y="767" width="1" height="22" fill="#fff"/>
<rect x="1215" y="346" width="1" height="16" fill="#008000"/>
<rect x="1214" y="349" width="3" height="3" fill="#008000"/>
<rect x="1214" y="776" width="3" height="14" fill="#008000"/>
<rect x="1219" y="356" width="1" height="13" fill="#008000"/>
<rect x="1218" y="358" width="3" height="1" fill="#008000"/>
<rect x="1218" y="780" width="3" height="10" fill="#008000"/>
<rect x="1224" y="352" width="1" height="14" fill="#ff0000"/>
<rect x="1223" y="360" width="3" height="2" fill="#ff0000"/>
<rect x="1223" y="780" width="3" height="10" fill="#ff0000"/>
<rect x="1224" y="781" width="1" height="8" fill="#fff"/>
<rect x="1228" y="348" width="1" height="28" fill="#ff0000"/>
<rect x="1227" y="350" width="3" height="13" fill="#ff0000"/>
<rect x="1228" y="351" width="1" height="11" fill="#fff"/>
<rect x="1227" y="781" width="3" height="9" fill="#ff0000"/>
<rect x="1228" y="782" width="1" height="7" fill="#fff"/>
<rect x="1233" y="334" width="1" height="21" fill="#008000"/>
<rect x="1232" y="352" width="3" height="2" fill="#008000"/>
<rect x="1232" y="778" width="3" height="12" fill="#008000"/>
<rect x="1237" y="353" width="1" height="18" fill="#008000"/>
<rect x="1236" y="354" width="3" height="16" fill="#008000"/>
<rect x="1236" y="781" width="3" height="9" fill="#008000"/>
<rect x="1242" y="370" width="1" height="12" fill="#008000"/>
<rect x="1241" y="373" width="3" height="5" fill="#008000"/>
<rect x="1241" y="781" width="3" height="9" fill="#008000"/>
<rect x="1246" y="368" width="1" height="16" fill="#ff0000"/>
<rect x="1245" y="372" width="3" height="3" fill="#ff0000"/>
<rect x="1246" y="373" width="1" height="1" fill="#fff"/>
<rect x="1245" y="783" width="3" height="7" fill="#ff0000"/>
<rect x="1246" y="784" width="1" height="5" fill="#fff"/>
<rect x="1251" y="366" width="1" height="14" fill="#ff0000"/>
<rect x="1250" y="369" width="3" height="9" fill="#ff0000"/>
<rect x="1251" y="370" width="1" height="7" fill="#fff"/>
<rect x="1250" y="786" width="3" height="4" fill="#ff0000"/>
<rect x="1251" y="787" width="1" height="2" fill="#fff"/>
<rect x="1255" y="331" width="1" height="17" fill="#008000"/>
<rect x="1254" y="337" width="3" height="1" fill="#008000"/>
<rect x="1254" y="764" width="3" height="26" fill="#008000"/>
</g>
<polygon points="767,693 773,693 770,689" fill="#000"/>
<defs><filter id="th3" x="0" y="0" width="1340" height="828" filterUnits="userSpaceOnUse" color-interpolation-filters="sRGB"><feComponentTransfer><feFuncA type="discrete" tableValues="0 0 1 1 1 1 1"/></feComponentTransfer></filter></defs>
<g filter="url(#th3)">
<text x="268.5" y="592.8" font-family="'Liberation Serif',serif" font-size="11" fill="#0000ff" letter-spacing="0.9">11.7000</text>
</g><g filter="url(#th2)">
<polyline fill="none" stroke="#0000ff" stroke-width="0.9" points="249.5,586 249.5,595 268,590.5"/>
<polyline fill="none" stroke="#0000ff" stroke-width="0.9" points="1179.5,253.5 1199,258"/>
<text x="1200" y="269" font-family="'Liberation Sans',sans-serif" font-size="11.5" fill="#0000ff" letter-spacing="0.4">30.6500</text>
</g>
</svg>
<div class="hl" style="top:790px;height:2px;background:#808080"></div>
<div class="hl" style="top:792px;background:#fff"></div>
<div class="bar" style="top:793px;height:35px"></div>
<div class="hl" style="top:794px;background:#ACA899;width:1240px"></div>
<div class="hl" style="top:811px;height:2px;background:#fff"></div>
<div class="hl" style="top:813px;background:#A09D8C"></div><div class="hl" style="top:814px;background:#CFCCBB"></div>
<div class="hl" style="top:815px;background:#fff"></div>
<div class="hl" style="top:818px;background:#C8C5B4"></div>
<svg class="abs" style="left:44px;top:798px" width="10" height="8"><polygon points="0,0 9,0 4.5,7.5" fill="#008000"/></svg>
<div class="abs" style="left:204px;top:794px;width:16px;height:16px;border-radius:8px;background:#ff0000"></div>
<svg class="abs" style="left:275px;top:798px" width="10" height="8"><polygon points="0,0 9,0 4.5,7.5" fill="#008000"/></svg>
<div class="abs" style="left:421px;top:795px;width:818px;height:16px;background:#716F64"></div>
<div class="abs" style="left:422px;top:796px;width:801px;height:15px;background:#fff"></div>
<div class="abs" style="left:1223px;top:796px;width:16px;height:15px;background:#ECE9D8"></div>
<div class="abs" style="left:1223px;top:797px;width:16px;height:6px;background:linear-gradient(#C6D6F8,#A9BFF0)"></div><div class="abs" style="left:1229px;top:799px;width:3px;height:1px;background:#4a5a80"></div>
<div class="abs" style="left:1223px;top:804px;width:16px;height:6px;background:linear-gradient(#C6D6F8,#A9BFF0)"></div><div class="abs" style="left:1229px;top:806px;width:3px;height:1px;background:#4a5a80"></div>
<div class="abs" style="left:1239px;top:794px;width:2px;height:17px;background:#fff"></div>
<svg class="abs" style="left:1242px;top:793px;filter:url(#th)" width="16" height="18" viewBox="0 0 16 18">
<path d="M6.5 5 L3.6 15.5 M6.5 5 L9.4 15.5 M4.6 12 H8.4 M5.3 9 H7.7 M6.5 2.5 V6" stroke="#000090" stroke-width="1.3" fill="none"/><rect x="1" y="15.3" width="11.5" height="1.3" fill="#000090"/>
<rect x="5.3" y="12.8" width="2.6" height="2.4" fill="#e0e0d0"/>
<path d="M4.6 2 Q3 4.5 4.6 7 M2.6 0.8 Q-0.2 4.5 2.6 8.6 M8.4 2 Q10 4.5 8.4 7 M10.4 0.8 Q13.2 4.5 10.4 8.6" stroke="#ff0000" stroke-width="1.25" fill="none"/>
</svg>
<div id="txt" style="position:absolute;left:0;top:0;width:1340px;height:828px;overflow:hidden;filter:url(#th)"><div class="ss" style="left:13px;top:-4px"><span class="c">浏览</span></div>
<div class="ss" style="left:49px;top:-4px"><span class="c">资讯</span></div>
<div class="ss" style="left:85px;top:-4px"><span class="c">江恩</span></div>
<div class="ss" style="left:121px;top:-4px"><span class="c">公式选股</span></div>
<div class="ss" style="left:181px;top:-4px"><span class="c">设置</span></div>
<div class="ss" style="left:217px;top:-4px"><span class="c">工具</span></div>
<div class="ss" style="left:253px;top:-4px"><span class="c">窗口</span></div>
<div class="ss" style="left:289px;top:-4px"><span class="c">交易委托</span></div>
<div class="ss" style="left:349px;top:-4px"><span class="c">帮助</span></div>
<div class="ss" style="left:-7px;top:21px"><span class="c">情</span></div>
<div class="ss tb" style="left:35px;top:21px"><span class="c">板块</span></div>
<div class="ss tb" style="left:88px;top:21px"><span class="l">K</span><span class="c">线</span></div>
<div class="ss tb" style="left:134px;top:21px"><span class="l">P</span><span class="c">四方形</span></div>
<div class="ss tb" style="left:205px;top:21px"><span class="l">9P</span><span class="c">四方形</span></div>
<div class="ss tb" style="left:283px;top:21px"><span class="l">P</span><span class="c">数字表</span></div>
<div class="ss tb" style="left:353px;top:21px"><span class="l">T</span><span class="c">四方形</span></div>
<div class="ss tb" style="left:425px;top:21px"><span class="l">9T</span><span class="c">四方形</span></div>
<div class="ss tb" style="left:502px;top:21px"><span class="l">T</span><span class="c">数字表</span></div>
<div class="ss tb" style="left:572px;top:21px"><span class="c">江恩轮</span></div>
<div class="ss tb" style="left:638px;top:21px"><span class="c">赢家轮</span></div>
<div class="ss tb" style="left:702px;top:21px"><span class="c">六角形</span></div>
<div class="ss tb" style="left:768px;top:21px"><span class="c">赢家服务</span></div>
<div class="dt" style="left:22px">09-12</div>
<div class="dt" style="left:76px">10-10</div>
<div class="dt" style="left:142px">10-31</div>
<div class="dt" style="left:208px">11-21</div>
<div class="dt" style="left:276px">12-12</div>
<div class="dt" style="left:343px">01-07</div>
<div class="dt" style="left:409px">01-28</div>
<div class="dt" style="left:477px">02-25</div>
<div class="dt" style="left:543px">03-18</div>
<div class="dt" style="left:610px">04-10</div>
<div class="dt" style="left:676px">05-06</div>
<div class="dt" style="left:743px">05-27</div>
<div class="dt" style="left:810px">06-20</div>
<div class="dt" style="left:876px">07-11</div>
<div class="dt" style="left:943px">08-01</div>
<div class="dt" style="left:1010px">08-22</div>
<div class="dt" style="left:1077px">09-12</div>
<div class="dt" style="left:1144px">10-14</div>
<div class="dt" style="left:1210px">11-04</div>
<div class="dt" style="left:1277px">11-25</div>
<div class="ind" style="left:21px;color:#000;font-size:13px;top:105px;letter-spacing:0;font-family:'Liberation Sans','WenQuanYi Zen Hei',sans-serif">极反通道</div>
<div class="ind" style="left:91px;color:#ff0000">Tp=21.6038</div>
<div class="ind" style="left:170px;color:#0000ff">Up=19.0705</div>
<div class="ind" style="left:249px;color:#000">Md=15.4958</div>
<div class="ind" style="left:328px;color:#0000ff">Dn=11.8240</div>
<div class="ind" style="left:407px;color:#ff0000">Bt=8.5321</div>
<div class="ind" style="left:1290px;color:#0000ff;letter-spacing:0.15px;top:107px">002439</div>
<div class="vl" style="top:678px">977</div>
<div class="vl" style="top:703px">402</div>
<div class="vl" style="top:728px">935</div>
<div class="vl" style="top:753px">467</div>
<div class="st" style="left:1px">091.06</div>
<div class="st" style="left:55px;word-spacing:1.5px">-35.71 -1.68% 648.65</div>
<div class="abs" style="left:181px;top:797px;font-size:12px;line-height:13px;color:#800000;font-family:'Liberation Sans','WenQuanYi Zen Hei',sans-serif">亿</div>
<div class="abs" style="left:204px;top:794px;width:16px;height:16px;color:#ffff00;font-size:11px;line-height:16px;text-align:center;font-family:'Liberation Sans','WenQuanYi Zen Hei',sans-serif">深</div>
<div class="st" style="left:224px">8131.23</div>
<div class="st" style="left:288px">-148.08 -1.79% 684.43</div>
<div class="abs" style="left:422px;top:798px;height:13px;width:300px;overflow:hidden;font-size:14px;line-height:16px;color:#ff0000;font-family:'Liberation Sans','WenQuanYi Zen Hei',sans-serif;letter-spacing:-0.1px">发电望增四倍</div>
<div class="abs" style="left:533px;top:798px;height:13px;width:300px;overflow:hidden;font-size:14px;line-height:16px;color:#ff0000;font-family:'Liberation Sans','WenQuanYi Zen Hei',sans-serif;letter-spacing:-0.1px">产业情报</div>
<div class="abs" style="left:1260px;top:797px;font-size:12.5px;line-height:14px;color:#000;font-family:'Liberation Sans','WenQuanYi Zen Hei',sans-serif;letter-spacing:0.3px">SH1A0001,上</div>
<div class="ss" style="left:-7px;top:820px"><span class="c">初八</span><span class="l">&nbsp;&nbsp;</span><span class="c">上弦</span><span class="l">]&nbsp;</span><span class="c">时间</span><span class="l">:20130319&nbsp;</span><span class="c">开</span><span class="l">:15.2300&nbsp;</span><span class="c">高</span><span class="l">:15.4400&nbsp;</span><span class="c">低</span><span class="l">:14.5100&nbsp;</span><span class="c">收</span><span class="l">:15.1500&nbsp;</span><span class="c">手</span><span class="l">:15802&nbsp;</span><span class="c">额</span><span class="l">:23782180.00&nbsp;</span><span class="c">换</span><span class="l">:0.00&nbsp;</span><span class="c">涨</span><span class="l">:-0.98&nbsp;</span><span class="c">盘</span><span class="l">:0&nbsp;</span><span class="c">标</span><span class="l">:11.1736</span></div></div>
</body></html>
